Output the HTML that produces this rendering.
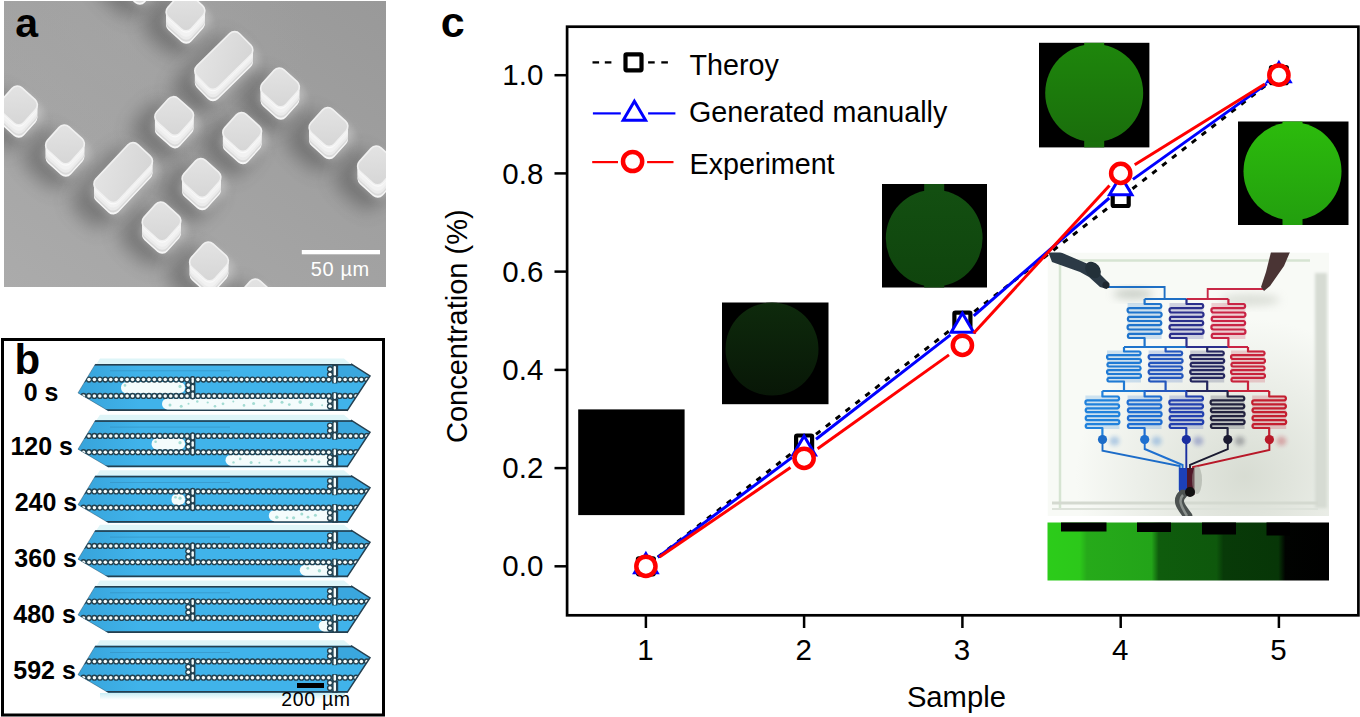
<!DOCTYPE html>
<html><head><meta charset="utf-8"><style>
html,body{margin:0;padding:0;background:#fff;}
body{width:1360px;height:717px;overflow:hidden;font-family:"Liberation Sans", sans-serif;}
svg{display:block;}
</style></head><body>
<svg width="1360" height="717" viewBox="0 0 1360 717">
<defs>
<linearGradient id="semgrad" x1="0" y1="1" x2="1" y2="0">
<stop offset="0" stop-color="#ababab"/><stop offset="0.5" stop-color="#a2a2a2"/><stop offset="1" stop-color="#999999"/>
</linearGradient>
<radialGradient id="semrad" cx="0.3" cy="0.15" r="0.5"><stop offset="0" stop-color="#a6a6a6" stop-opacity="0.5"/><stop offset="1" stop-color="#a6a6a6" stop-opacity="0"/></radialGradient>
<filter id="blur1" x="-50%" y="-10%" width="200%" height="120%"><feGaussianBlur stdDeviation="1.5"/></filter>
<filter id="blur7" x="-80%" y="-80%" width="260%" height="260%"><feGaussianBlur stdDeviation="9"/></filter>
<filter id="blur2" x="-80%" y="-80%" width="260%" height="260%"><feGaussianBlur stdDeviation="2"/></filter>
<filter id="blur4" x="-50%" y="-50%" width="200%" height="200%"><feGaussianBlur stdDeviation="4"/></filter>
<linearGradient id="topface" x1="0" y1="0" x2="1" y2="1">
<stop offset="0" stop-color="#e4e4e4"/><stop offset="1" stop-color="#d5d5d5"/>
</linearGradient>
<radialGradient id="chipshade" cx="0.7" cy="0.85" r="0.6">
<stop offset="0" stop-color="#d4d9cf" stop-opacity="0.9"/><stop offset="1" stop-color="#d4d9cf" stop-opacity="0"/>
</radialGradient>
<linearGradient id="gstrip" x1="1047.5" y1="0" x2="1329" y2="0" gradientUnits="userSpaceOnUse">
<stop offset="0" stop-color="#2ccc1a"/><stop offset="0.115" stop-color="#2cc81a"/><stop offset="0.14" stop-color="#26aa1a"/>
<stop offset="0.37" stop-color="#23a419"/><stop offset="0.395" stop-color="#0f5c0d"/>
<stop offset="0.6" stop-color="#0e580c"/><stop offset="0.625" stop-color="#083a08"/>
<stop offset="0.82" stop-color="#073607"/><stop offset="0.845" stop-color="#010301"/><stop offset="1" stop-color="#000"/>
</linearGradient>
<linearGradient id="g1" x1="0" y1="0" x2="0" y2="1"><stop offset="0" stop-color="#1e860c"/><stop offset="1" stop-color="#1a6e0c"/></linearGradient>
<linearGradient id="g2" x1="0" y1="0" x2="0" y2="1"><stop offset="0" stop-color="#2cbb0c"/><stop offset="1" stop-color="#23a00e"/></linearGradient>
<linearGradient id="g3" x1="0" y1="0" x2="0" y2="1"><stop offset="0" stop-color="#134f11"/><stop offset="1" stop-color="#0f440d"/></linearGradient>
<linearGradient id="halob" x1="0" y1="0" x2="0" y2="1"><stop offset="0" stop-color="#c8eef4"/><stop offset="1" stop-color="#ffffff"/></linearGradient>
<linearGradient id="g4" x1="0" y1="0" x2="0" y2="1"><stop offset="0" stop-color="#0e2a0c"/><stop offset="1" stop-color="#081707"/></linearGradient>
<linearGradient id="leftshade" x1="0" y1="0" x2="1" y2="0">
<stop offset="0" stop-color="#1f78b0" stop-opacity="0.3"/><stop offset="1" stop-color="#1f78b0" stop-opacity="0"/>
</linearGradient>
</defs>
<rect width="1360" height="717" fill="#fff"/>
<clipPath id="clipA"><rect x="4" y="1" width="382" height="286"/></clipPath><g clip-path="url(#clipA)"><rect x="4" y="1" width="382" height="286" fill="url(#semgrad)"/><rect x="4" y="1" width="382" height="286" fill="url(#semrad)"/><rect transform="translate(126.0,-12.5) rotate(42)" x="-26.8" y="-23.8" width="53.5" height="47.5" rx="15" fill="#3a3a3a" opacity="0.42" filter="url(#blur7)"/><rect transform="translate(172.5,26.5) rotate(42)" x="-26.8" y="-23.8" width="53.5" height="47.5" rx="15" fill="#3a3a3a" opacity="0.42" filter="url(#blur7)"/><rect transform="translate(267.0,102.5) rotate(42)" x="-26.8" y="-23.8" width="53.5" height="47.5" rx="15" fill="#3a3a3a" opacity="0.42" filter="url(#blur7)"/><rect transform="translate(315.5,142.0) rotate(42)" x="-26.8" y="-23.8" width="53.5" height="47.5" rx="15" fill="#3a3a3a" opacity="0.42" filter="url(#blur7)"/><rect transform="translate(364.0,180.5) rotate(42)" x="-26.8" y="-23.8" width="53.5" height="47.5" rx="15" fill="#3a3a3a" opacity="0.42" filter="url(#blur7)"/><rect transform="translate(5.0,120.5) rotate(42)" x="-26.8" y="-23.8" width="53.5" height="47.5" rx="15" fill="#3a3a3a" opacity="0.42" filter="url(#blur7)"/><rect transform="translate(52.0,159.5) rotate(42)" x="-26.8" y="-23.8" width="53.5" height="47.5" rx="15" fill="#3a3a3a" opacity="0.42" filter="url(#blur7)"/><rect transform="translate(161.2,131.1) rotate(42)" x="-26.8" y="-23.8" width="53.5" height="47.5" rx="15" fill="#3a3a3a" opacity="0.42" filter="url(#blur7)"/><rect transform="translate(229.2,147.0) rotate(42)" x="-26.8" y="-23.8" width="53.5" height="47.5" rx="15" fill="#3a3a3a" opacity="0.42" filter="url(#blur7)"/><rect transform="translate(188.5,193.0) rotate(42)" x="-26.8" y="-23.8" width="53.5" height="47.5" rx="15" fill="#3a3a3a" opacity="0.42" filter="url(#blur7)"/><rect transform="translate(148.5,236.5) rotate(42)" x="-26.8" y="-23.8" width="53.5" height="47.5" rx="15" fill="#3a3a3a" opacity="0.42" filter="url(#blur7)"/><rect transform="translate(196.0,276.5) rotate(42)" x="-26.8" y="-23.8" width="53.5" height="47.5" rx="15" fill="#3a3a3a" opacity="0.42" filter="url(#blur7)"/><rect transform="translate(243.0,313.5) rotate(42)" x="-26.8" y="-23.8" width="53.5" height="47.5" rx="15" fill="#3a3a3a" opacity="0.42" filter="url(#blur7)"/><rect transform="translate(210.8,75.5) rotate(-44.5)" x="-41.0" y="-23.0" width="82.0" height="46.0" rx="15" fill="#3a3a3a" opacity="0.42" filter="url(#blur7)"/><rect transform="translate(110.2,187.6) rotate(-46.8)" x="-41.5" y="-23.5" width="83.0" height="47.0" rx="15" fill="#3a3a3a" opacity="0.42" filter="url(#blur7)"/><rect transform="translate(141.0,-18.4) rotate(42)" x="-19.8" y="-19.8" width="39.5" height="39.5" rx="11" fill="#ffffff" opacity="0.35" filter="url(#blur4)"/><rect transform="translate(139.0,-14.5) rotate(42)" x="-15.8" y="-15.8" width="31.5" height="31.5" rx="7" fill="#f6f6f6"/><rect transform="translate(139.0,-15.5) rotate(42)" x="-15.8" y="-15.8" width="31.5" height="31.5" rx="7" fill="#f6f6f6"/><rect transform="translate(139.0,-16.5) rotate(42)" x="-15.8" y="-15.8" width="31.5" height="31.5" rx="7" fill="#dadada"/><rect transform="translate(139.0,-17.5) rotate(42)" x="-15.8" y="-15.8" width="31.5" height="31.5" rx="7" fill="#dadada"/><rect transform="translate(139.0,-18.5) rotate(42)" x="-15.8" y="-15.8" width="31.5" height="31.5" rx="7" fill="#ebebeb"/><rect transform="translate(139.0,-19.5) rotate(42)" x="-15.8" y="-15.8" width="31.5" height="31.5" rx="7" fill="#ebebeb"/><rect transform="translate(139.0,-20.5) rotate(42)" x="-15.8" y="-15.8" width="31.5" height="31.5" rx="7" fill="#ebebeb"/><rect transform="translate(139.0,-21.5) rotate(42)" x="-15.8" y="-15.8" width="31.5" height="31.5" rx="7" fill="#f2f2f2"/><rect transform="translate(139.0,-22.5) rotate(42)" x="-15.8" y="-15.8" width="31.5" height="31.5" rx="7" fill="#f2f2f2"/><rect transform="translate(139.0,-23.5) rotate(42)" x="-15.8" y="-15.8" width="31.5" height="31.5" rx="7" fill="#f2f2f2"/><rect transform="translate(139.0,-24.5) rotate(42)" x="-15.8" y="-15.8" width="31.5" height="31.5" rx="7" fill="#f2f2f2"/><rect transform="translate(139.0,-25.5) rotate(42)" x="-15.8" y="-15.8" width="31.5" height="31.5" rx="7" fill="#fafafa"/><rect transform="translate(139.0,-26.5) rotate(42)" x="-15.8" y="-15.8" width="31.5" height="31.5" rx="7" fill="#fafafa"/><rect transform="translate(139.0,-27.5) rotate(42)" x="-15.8" y="-15.8" width="31.5" height="31.5" rx="7" fill="#fafafa"/><rect transform="translate(139.0,-27.5) rotate(42)" x="-15.8" y="-15.8" width="31.5" height="31.5" rx="7" fill="url(#topface)" stroke="#f0f0f0" stroke-width="1.6"/><rect transform="translate(187.5,20.6) rotate(42)" x="-19.8" y="-19.8" width="39.5" height="39.5" rx="11" fill="#ffffff" opacity="0.35" filter="url(#blur4)"/><rect transform="translate(185.5,24.5) rotate(42)" x="-15.8" y="-15.8" width="31.5" height="31.5" rx="7" fill="#f6f6f6"/><rect transform="translate(185.5,23.5) rotate(42)" x="-15.8" y="-15.8" width="31.5" height="31.5" rx="7" fill="#f6f6f6"/><rect transform="translate(185.5,22.5) rotate(42)" x="-15.8" y="-15.8" width="31.5" height="31.5" rx="7" fill="#dadada"/><rect transform="translate(185.5,21.5) rotate(42)" x="-15.8" y="-15.8" width="31.5" height="31.5" rx="7" fill="#dadada"/><rect transform="translate(185.5,20.5) rotate(42)" x="-15.8" y="-15.8" width="31.5" height="31.5" rx="7" fill="#ebebeb"/><rect transform="translate(185.5,19.5) rotate(42)" x="-15.8" y="-15.8" width="31.5" height="31.5" rx="7" fill="#ebebeb"/><rect transform="translate(185.5,18.5) rotate(42)" x="-15.8" y="-15.8" width="31.5" height="31.5" rx="7" fill="#ebebeb"/><rect transform="translate(185.5,17.5) rotate(42)" x="-15.8" y="-15.8" width="31.5" height="31.5" rx="7" fill="#f2f2f2"/><rect transform="translate(185.5,16.5) rotate(42)" x="-15.8" y="-15.8" width="31.5" height="31.5" rx="7" fill="#f2f2f2"/><rect transform="translate(185.5,15.5) rotate(42)" x="-15.8" y="-15.8" width="31.5" height="31.5" rx="7" fill="#f2f2f2"/><rect transform="translate(185.5,14.5) rotate(42)" x="-15.8" y="-15.8" width="31.5" height="31.5" rx="7" fill="#f2f2f2"/><rect transform="translate(185.5,13.5) rotate(42)" x="-15.8" y="-15.8" width="31.5" height="31.5" rx="7" fill="#fafafa"/><rect transform="translate(185.5,12.5) rotate(42)" x="-15.8" y="-15.8" width="31.5" height="31.5" rx="7" fill="#fafafa"/><rect transform="translate(185.5,11.5) rotate(42)" x="-15.8" y="-15.8" width="31.5" height="31.5" rx="7" fill="#fafafa"/><rect transform="translate(185.5,11.5) rotate(42)" x="-15.8" y="-15.8" width="31.5" height="31.5" rx="7" fill="url(#topface)" stroke="#f0f0f0" stroke-width="1.6"/><rect transform="translate(282.0,96.6) rotate(42)" x="-19.8" y="-19.8" width="39.5" height="39.5" rx="11" fill="#ffffff" opacity="0.35" filter="url(#blur4)"/><rect transform="translate(280.0,100.5) rotate(42)" x="-15.8" y="-15.8" width="31.5" height="31.5" rx="7" fill="#f6f6f6"/><rect transform="translate(280.0,99.5) rotate(42)" x="-15.8" y="-15.8" width="31.5" height="31.5" rx="7" fill="#f6f6f6"/><rect transform="translate(280.0,98.5) rotate(42)" x="-15.8" y="-15.8" width="31.5" height="31.5" rx="7" fill="#dadada"/><rect transform="translate(280.0,97.5) rotate(42)" x="-15.8" y="-15.8" width="31.5" height="31.5" rx="7" fill="#dadada"/><rect transform="translate(280.0,96.5) rotate(42)" x="-15.8" y="-15.8" width="31.5" height="31.5" rx="7" fill="#ebebeb"/><rect transform="translate(280.0,95.5) rotate(42)" x="-15.8" y="-15.8" width="31.5" height="31.5" rx="7" fill="#ebebeb"/><rect transform="translate(280.0,94.5) rotate(42)" x="-15.8" y="-15.8" width="31.5" height="31.5" rx="7" fill="#ebebeb"/><rect transform="translate(280.0,93.5) rotate(42)" x="-15.8" y="-15.8" width="31.5" height="31.5" rx="7" fill="#f2f2f2"/><rect transform="translate(280.0,92.5) rotate(42)" x="-15.8" y="-15.8" width="31.5" height="31.5" rx="7" fill="#f2f2f2"/><rect transform="translate(280.0,91.5) rotate(42)" x="-15.8" y="-15.8" width="31.5" height="31.5" rx="7" fill="#f2f2f2"/><rect transform="translate(280.0,90.5) rotate(42)" x="-15.8" y="-15.8" width="31.5" height="31.5" rx="7" fill="#f2f2f2"/><rect transform="translate(280.0,89.5) rotate(42)" x="-15.8" y="-15.8" width="31.5" height="31.5" rx="7" fill="#fafafa"/><rect transform="translate(280.0,88.5) rotate(42)" x="-15.8" y="-15.8" width="31.5" height="31.5" rx="7" fill="#fafafa"/><rect transform="translate(280.0,87.5) rotate(42)" x="-15.8" y="-15.8" width="31.5" height="31.5" rx="7" fill="#fafafa"/><rect transform="translate(280.0,87.5) rotate(42)" x="-15.8" y="-15.8" width="31.5" height="31.5" rx="7" fill="url(#topface)" stroke="#f0f0f0" stroke-width="1.6"/><rect transform="translate(330.5,136.1) rotate(42)" x="-19.8" y="-19.8" width="39.5" height="39.5" rx="11" fill="#ffffff" opacity="0.35" filter="url(#blur4)"/><rect transform="translate(328.5,140.0) rotate(42)" x="-15.8" y="-15.8" width="31.5" height="31.5" rx="7" fill="#f6f6f6"/><rect transform="translate(328.5,139.0) rotate(42)" x="-15.8" y="-15.8" width="31.5" height="31.5" rx="7" fill="#f6f6f6"/><rect transform="translate(328.5,138.0) rotate(42)" x="-15.8" y="-15.8" width="31.5" height="31.5" rx="7" fill="#dadada"/><rect transform="translate(328.5,137.0) rotate(42)" x="-15.8" y="-15.8" width="31.5" height="31.5" rx="7" fill="#dadada"/><rect transform="translate(328.5,136.0) rotate(42)" x="-15.8" y="-15.8" width="31.5" height="31.5" rx="7" fill="#ebebeb"/><rect transform="translate(328.5,135.0) rotate(42)" x="-15.8" y="-15.8" width="31.5" height="31.5" rx="7" fill="#ebebeb"/><rect transform="translate(328.5,134.0) rotate(42)" x="-15.8" y="-15.8" width="31.5" height="31.5" rx="7" fill="#ebebeb"/><rect transform="translate(328.5,133.0) rotate(42)" x="-15.8" y="-15.8" width="31.5" height="31.5" rx="7" fill="#f2f2f2"/><rect transform="translate(328.5,132.0) rotate(42)" x="-15.8" y="-15.8" width="31.5" height="31.5" rx="7" fill="#f2f2f2"/><rect transform="translate(328.5,131.0) rotate(42)" x="-15.8" y="-15.8" width="31.5" height="31.5" rx="7" fill="#f2f2f2"/><rect transform="translate(328.5,130.0) rotate(42)" x="-15.8" y="-15.8" width="31.5" height="31.5" rx="7" fill="#f2f2f2"/><rect transform="translate(328.5,129.0) rotate(42)" x="-15.8" y="-15.8" width="31.5" height="31.5" rx="7" fill="#fafafa"/><rect transform="translate(328.5,128.0) rotate(42)" x="-15.8" y="-15.8" width="31.5" height="31.5" rx="7" fill="#fafafa"/><rect transform="translate(328.5,127.0) rotate(42)" x="-15.8" y="-15.8" width="31.5" height="31.5" rx="7" fill="#fafafa"/><rect transform="translate(328.5,127.0) rotate(42)" x="-15.8" y="-15.8" width="31.5" height="31.5" rx="7" fill="url(#topface)" stroke="#f0f0f0" stroke-width="1.6"/><rect transform="translate(379.0,174.6) rotate(42)" x="-19.8" y="-19.8" width="39.5" height="39.5" rx="11" fill="#ffffff" opacity="0.35" filter="url(#blur4)"/><rect transform="translate(377.0,178.5) rotate(42)" x="-15.8" y="-15.8" width="31.5" height="31.5" rx="7" fill="#f6f6f6"/><rect transform="translate(377.0,177.5) rotate(42)" x="-15.8" y="-15.8" width="31.5" height="31.5" rx="7" fill="#f6f6f6"/><rect transform="translate(377.0,176.5) rotate(42)" x="-15.8" y="-15.8" width="31.5" height="31.5" rx="7" fill="#dadada"/><rect transform="translate(377.0,175.5) rotate(42)" x="-15.8" y="-15.8" width="31.5" height="31.5" rx="7" fill="#dadada"/><rect transform="translate(377.0,174.5) rotate(42)" x="-15.8" y="-15.8" width="31.5" height="31.5" rx="7" fill="#ebebeb"/><rect transform="translate(377.0,173.5) rotate(42)" x="-15.8" y="-15.8" width="31.5" height="31.5" rx="7" fill="#ebebeb"/><rect transform="translate(377.0,172.5) rotate(42)" x="-15.8" y="-15.8" width="31.5" height="31.5" rx="7" fill="#ebebeb"/><rect transform="translate(377.0,171.5) rotate(42)" x="-15.8" y="-15.8" width="31.5" height="31.5" rx="7" fill="#f2f2f2"/><rect transform="translate(377.0,170.5) rotate(42)" x="-15.8" y="-15.8" width="31.5" height="31.5" rx="7" fill="#f2f2f2"/><rect transform="translate(377.0,169.5) rotate(42)" x="-15.8" y="-15.8" width="31.5" height="31.5" rx="7" fill="#f2f2f2"/><rect transform="translate(377.0,168.5) rotate(42)" x="-15.8" y="-15.8" width="31.5" height="31.5" rx="7" fill="#f2f2f2"/><rect transform="translate(377.0,167.5) rotate(42)" x="-15.8" y="-15.8" width="31.5" height="31.5" rx="7" fill="#fafafa"/><rect transform="translate(377.0,166.5) rotate(42)" x="-15.8" y="-15.8" width="31.5" height="31.5" rx="7" fill="#fafafa"/><rect transform="translate(377.0,165.5) rotate(42)" x="-15.8" y="-15.8" width="31.5" height="31.5" rx="7" fill="#fafafa"/><rect transform="translate(377.0,165.5) rotate(42)" x="-15.8" y="-15.8" width="31.5" height="31.5" rx="7" fill="url(#topface)" stroke="#f0f0f0" stroke-width="1.6"/><rect transform="translate(20.0,114.6) rotate(42)" x="-19.8" y="-19.8" width="39.5" height="39.5" rx="11" fill="#ffffff" opacity="0.35" filter="url(#blur4)"/><rect transform="translate(18.0,118.5) rotate(42)" x="-15.8" y="-15.8" width="31.5" height="31.5" rx="7" fill="#f6f6f6"/><rect transform="translate(18.0,117.5) rotate(42)" x="-15.8" y="-15.8" width="31.5" height="31.5" rx="7" fill="#f6f6f6"/><rect transform="translate(18.0,116.5) rotate(42)" x="-15.8" y="-15.8" width="31.5" height="31.5" rx="7" fill="#dadada"/><rect transform="translate(18.0,115.5) rotate(42)" x="-15.8" y="-15.8" width="31.5" height="31.5" rx="7" fill="#dadada"/><rect transform="translate(18.0,114.5) rotate(42)" x="-15.8" y="-15.8" width="31.5" height="31.5" rx="7" fill="#ebebeb"/><rect transform="translate(18.0,113.5) rotate(42)" x="-15.8" y="-15.8" width="31.5" height="31.5" rx="7" fill="#ebebeb"/><rect transform="translate(18.0,112.5) rotate(42)" x="-15.8" y="-15.8" width="31.5" height="31.5" rx="7" fill="#ebebeb"/><rect transform="translate(18.0,111.5) rotate(42)" x="-15.8" y="-15.8" width="31.5" height="31.5" rx="7" fill="#f2f2f2"/><rect transform="translate(18.0,110.5) rotate(42)" x="-15.8" y="-15.8" width="31.5" height="31.5" rx="7" fill="#f2f2f2"/><rect transform="translate(18.0,109.5) rotate(42)" x="-15.8" y="-15.8" width="31.5" height="31.5" rx="7" fill="#f2f2f2"/><rect transform="translate(18.0,108.5) rotate(42)" x="-15.8" y="-15.8" width="31.5" height="31.5" rx="7" fill="#f2f2f2"/><rect transform="translate(18.0,107.5) rotate(42)" x="-15.8" y="-15.8" width="31.5" height="31.5" rx="7" fill="#fafafa"/><rect transform="translate(18.0,106.5) rotate(42)" x="-15.8" y="-15.8" width="31.5" height="31.5" rx="7" fill="#fafafa"/><rect transform="translate(18.0,105.5) rotate(42)" x="-15.8" y="-15.8" width="31.5" height="31.5" rx="7" fill="#fafafa"/><rect transform="translate(18.0,105.5) rotate(42)" x="-15.8" y="-15.8" width="31.5" height="31.5" rx="7" fill="url(#topface)" stroke="#f0f0f0" stroke-width="1.6"/><rect transform="translate(67.0,153.6) rotate(42)" x="-19.8" y="-19.8" width="39.5" height="39.5" rx="11" fill="#ffffff" opacity="0.35" filter="url(#blur4)"/><rect transform="translate(65.0,157.5) rotate(42)" x="-15.8" y="-15.8" width="31.5" height="31.5" rx="7" fill="#f6f6f6"/><rect transform="translate(65.0,156.5) rotate(42)" x="-15.8" y="-15.8" width="31.5" height="31.5" rx="7" fill="#f6f6f6"/><rect transform="translate(65.0,155.5) rotate(42)" x="-15.8" y="-15.8" width="31.5" height="31.5" rx="7" fill="#dadada"/><rect transform="translate(65.0,154.5) rotate(42)" x="-15.8" y="-15.8" width="31.5" height="31.5" rx="7" fill="#dadada"/><rect transform="translate(65.0,153.5) rotate(42)" x="-15.8" y="-15.8" width="31.5" height="31.5" rx="7" fill="#ebebeb"/><rect transform="translate(65.0,152.5) rotate(42)" x="-15.8" y="-15.8" width="31.5" height="31.5" rx="7" fill="#ebebeb"/><rect transform="translate(65.0,151.5) rotate(42)" x="-15.8" y="-15.8" width="31.5" height="31.5" rx="7" fill="#ebebeb"/><rect transform="translate(65.0,150.5) rotate(42)" x="-15.8" y="-15.8" width="31.5" height="31.5" rx="7" fill="#f2f2f2"/><rect transform="translate(65.0,149.5) rotate(42)" x="-15.8" y="-15.8" width="31.5" height="31.5" rx="7" fill="#f2f2f2"/><rect transform="translate(65.0,148.5) rotate(42)" x="-15.8" y="-15.8" width="31.5" height="31.5" rx="7" fill="#f2f2f2"/><rect transform="translate(65.0,147.5) rotate(42)" x="-15.8" y="-15.8" width="31.5" height="31.5" rx="7" fill="#f2f2f2"/><rect transform="translate(65.0,146.5) rotate(42)" x="-15.8" y="-15.8" width="31.5" height="31.5" rx="7" fill="#fafafa"/><rect transform="translate(65.0,145.5) rotate(42)" x="-15.8" y="-15.8" width="31.5" height="31.5" rx="7" fill="#fafafa"/><rect transform="translate(65.0,144.5) rotate(42)" x="-15.8" y="-15.8" width="31.5" height="31.5" rx="7" fill="#fafafa"/><rect transform="translate(65.0,144.5) rotate(42)" x="-15.8" y="-15.8" width="31.5" height="31.5" rx="7" fill="url(#topface)" stroke="#f0f0f0" stroke-width="1.6"/><rect transform="translate(176.2,125.2) rotate(42)" x="-19.8" y="-19.8" width="39.5" height="39.5" rx="11" fill="#ffffff" opacity="0.35" filter="url(#blur4)"/><rect transform="translate(174.2,129.1) rotate(42)" x="-15.8" y="-15.8" width="31.5" height="31.5" rx="7" fill="#f6f6f6"/><rect transform="translate(174.2,128.1) rotate(42)" x="-15.8" y="-15.8" width="31.5" height="31.5" rx="7" fill="#f6f6f6"/><rect transform="translate(174.2,127.1) rotate(42)" x="-15.8" y="-15.8" width="31.5" height="31.5" rx="7" fill="#dadada"/><rect transform="translate(174.2,126.1) rotate(42)" x="-15.8" y="-15.8" width="31.5" height="31.5" rx="7" fill="#dadada"/><rect transform="translate(174.2,125.1) rotate(42)" x="-15.8" y="-15.8" width="31.5" height="31.5" rx="7" fill="#ebebeb"/><rect transform="translate(174.2,124.1) rotate(42)" x="-15.8" y="-15.8" width="31.5" height="31.5" rx="7" fill="#ebebeb"/><rect transform="translate(174.2,123.1) rotate(42)" x="-15.8" y="-15.8" width="31.5" height="31.5" rx="7" fill="#ebebeb"/><rect transform="translate(174.2,122.1) rotate(42)" x="-15.8" y="-15.8" width="31.5" height="31.5" rx="7" fill="#f2f2f2"/><rect transform="translate(174.2,121.1) rotate(42)" x="-15.8" y="-15.8" width="31.5" height="31.5" rx="7" fill="#f2f2f2"/><rect transform="translate(174.2,120.1) rotate(42)" x="-15.8" y="-15.8" width="31.5" height="31.5" rx="7" fill="#f2f2f2"/><rect transform="translate(174.2,119.1) rotate(42)" x="-15.8" y="-15.8" width="31.5" height="31.5" rx="7" fill="#f2f2f2"/><rect transform="translate(174.2,118.1) rotate(42)" x="-15.8" y="-15.8" width="31.5" height="31.5" rx="7" fill="#fafafa"/><rect transform="translate(174.2,117.1) rotate(42)" x="-15.8" y="-15.8" width="31.5" height="31.5" rx="7" fill="#fafafa"/><rect transform="translate(174.2,116.1) rotate(42)" x="-15.8" y="-15.8" width="31.5" height="31.5" rx="7" fill="#fafafa"/><rect transform="translate(174.2,116.1) rotate(42)" x="-15.8" y="-15.8" width="31.5" height="31.5" rx="7" fill="url(#topface)" stroke="#f0f0f0" stroke-width="1.6"/><rect transform="translate(244.2,141.1) rotate(42)" x="-19.8" y="-19.8" width="39.5" height="39.5" rx="11" fill="#ffffff" opacity="0.35" filter="url(#blur4)"/><rect transform="translate(242.2,145.0) rotate(42)" x="-15.8" y="-15.8" width="31.5" height="31.5" rx="7" fill="#f6f6f6"/><rect transform="translate(242.2,144.0) rotate(42)" x="-15.8" y="-15.8" width="31.5" height="31.5" rx="7" fill="#f6f6f6"/><rect transform="translate(242.2,143.0) rotate(42)" x="-15.8" y="-15.8" width="31.5" height="31.5" rx="7" fill="#dadada"/><rect transform="translate(242.2,142.0) rotate(42)" x="-15.8" y="-15.8" width="31.5" height="31.5" rx="7" fill="#dadada"/><rect transform="translate(242.2,141.0) rotate(42)" x="-15.8" y="-15.8" width="31.5" height="31.5" rx="7" fill="#ebebeb"/><rect transform="translate(242.2,140.0) rotate(42)" x="-15.8" y="-15.8" width="31.5" height="31.5" rx="7" fill="#ebebeb"/><rect transform="translate(242.2,139.0) rotate(42)" x="-15.8" y="-15.8" width="31.5" height="31.5" rx="7" fill="#ebebeb"/><rect transform="translate(242.2,138.0) rotate(42)" x="-15.8" y="-15.8" width="31.5" height="31.5" rx="7" fill="#f2f2f2"/><rect transform="translate(242.2,137.0) rotate(42)" x="-15.8" y="-15.8" width="31.5" height="31.5" rx="7" fill="#f2f2f2"/><rect transform="translate(242.2,136.0) rotate(42)" x="-15.8" y="-15.8" width="31.5" height="31.5" rx="7" fill="#f2f2f2"/><rect transform="translate(242.2,135.0) rotate(42)" x="-15.8" y="-15.8" width="31.5" height="31.5" rx="7" fill="#f2f2f2"/><rect transform="translate(242.2,134.0) rotate(42)" x="-15.8" y="-15.8" width="31.5" height="31.5" rx="7" fill="#fafafa"/><rect transform="translate(242.2,133.0) rotate(42)" x="-15.8" y="-15.8" width="31.5" height="31.5" rx="7" fill="#fafafa"/><rect transform="translate(242.2,132.0) rotate(42)" x="-15.8" y="-15.8" width="31.5" height="31.5" rx="7" fill="#fafafa"/><rect transform="translate(242.2,132.0) rotate(42)" x="-15.8" y="-15.8" width="31.5" height="31.5" rx="7" fill="url(#topface)" stroke="#f0f0f0" stroke-width="1.6"/><rect transform="translate(203.5,187.1) rotate(42)" x="-19.8" y="-19.8" width="39.5" height="39.5" rx="11" fill="#ffffff" opacity="0.35" filter="url(#blur4)"/><rect transform="translate(201.5,191.0) rotate(42)" x="-15.8" y="-15.8" width="31.5" height="31.5" rx="7" fill="#f6f6f6"/><rect transform="translate(201.5,190.0) rotate(42)" x="-15.8" y="-15.8" width="31.5" height="31.5" rx="7" fill="#f6f6f6"/><rect transform="translate(201.5,189.0) rotate(42)" x="-15.8" y="-15.8" width="31.5" height="31.5" rx="7" fill="#dadada"/><rect transform="translate(201.5,188.0) rotate(42)" x="-15.8" y="-15.8" width="31.5" height="31.5" rx="7" fill="#dadada"/><rect transform="translate(201.5,187.0) rotate(42)" x="-15.8" y="-15.8" width="31.5" height="31.5" rx="7" fill="#ebebeb"/><rect transform="translate(201.5,186.0) rotate(42)" x="-15.8" y="-15.8" width="31.5" height="31.5" rx="7" fill="#ebebeb"/><rect transform="translate(201.5,185.0) rotate(42)" x="-15.8" y="-15.8" width="31.5" height="31.5" rx="7" fill="#ebebeb"/><rect transform="translate(201.5,184.0) rotate(42)" x="-15.8" y="-15.8" width="31.5" height="31.5" rx="7" fill="#f2f2f2"/><rect transform="translate(201.5,183.0) rotate(42)" x="-15.8" y="-15.8" width="31.5" height="31.5" rx="7" fill="#f2f2f2"/><rect transform="translate(201.5,182.0) rotate(42)" x="-15.8" y="-15.8" width="31.5" height="31.5" rx="7" fill="#f2f2f2"/><rect transform="translate(201.5,181.0) rotate(42)" x="-15.8" y="-15.8" width="31.5" height="31.5" rx="7" fill="#f2f2f2"/><rect transform="translate(201.5,180.0) rotate(42)" x="-15.8" y="-15.8" width="31.5" height="31.5" rx="7" fill="#fafafa"/><rect transform="translate(201.5,179.0) rotate(42)" x="-15.8" y="-15.8" width="31.5" height="31.5" rx="7" fill="#fafafa"/><rect transform="translate(201.5,178.0) rotate(42)" x="-15.8" y="-15.8" width="31.5" height="31.5" rx="7" fill="#fafafa"/><rect transform="translate(201.5,178.0) rotate(42)" x="-15.8" y="-15.8" width="31.5" height="31.5" rx="7" fill="url(#topface)" stroke="#f0f0f0" stroke-width="1.6"/><rect transform="translate(163.5,230.6) rotate(42)" x="-19.8" y="-19.8" width="39.5" height="39.5" rx="11" fill="#ffffff" opacity="0.35" filter="url(#blur4)"/><rect transform="translate(161.5,234.5) rotate(42)" x="-15.8" y="-15.8" width="31.5" height="31.5" rx="7" fill="#f6f6f6"/><rect transform="translate(161.5,233.5) rotate(42)" x="-15.8" y="-15.8" width="31.5" height="31.5" rx="7" fill="#f6f6f6"/><rect transform="translate(161.5,232.5) rotate(42)" x="-15.8" y="-15.8" width="31.5" height="31.5" rx="7" fill="#dadada"/><rect transform="translate(161.5,231.5) rotate(42)" x="-15.8" y="-15.8" width="31.5" height="31.5" rx="7" fill="#dadada"/><rect transform="translate(161.5,230.5) rotate(42)" x="-15.8" y="-15.8" width="31.5" height="31.5" rx="7" fill="#ebebeb"/><rect transform="translate(161.5,229.5) rotate(42)" x="-15.8" y="-15.8" width="31.5" height="31.5" rx="7" fill="#ebebeb"/><rect transform="translate(161.5,228.5) rotate(42)" x="-15.8" y="-15.8" width="31.5" height="31.5" rx="7" fill="#ebebeb"/><rect transform="translate(161.5,227.5) rotate(42)" x="-15.8" y="-15.8" width="31.5" height="31.5" rx="7" fill="#f2f2f2"/><rect transform="translate(161.5,226.5) rotate(42)" x="-15.8" y="-15.8" width="31.5" height="31.5" rx="7" fill="#f2f2f2"/><rect transform="translate(161.5,225.5) rotate(42)" x="-15.8" y="-15.8" width="31.5" height="31.5" rx="7" fill="#f2f2f2"/><rect transform="translate(161.5,224.5) rotate(42)" x="-15.8" y="-15.8" width="31.5" height="31.5" rx="7" fill="#f2f2f2"/><rect transform="translate(161.5,223.5) rotate(42)" x="-15.8" y="-15.8" width="31.5" height="31.5" rx="7" fill="#fafafa"/><rect transform="translate(161.5,222.5) rotate(42)" x="-15.8" y="-15.8" width="31.5" height="31.5" rx="7" fill="#fafafa"/><rect transform="translate(161.5,221.5) rotate(42)" x="-15.8" y="-15.8" width="31.5" height="31.5" rx="7" fill="#fafafa"/><rect transform="translate(161.5,221.5) rotate(42)" x="-15.8" y="-15.8" width="31.5" height="31.5" rx="7" fill="url(#topface)" stroke="#f0f0f0" stroke-width="1.6"/><rect transform="translate(211.0,270.6) rotate(42)" x="-19.8" y="-19.8" width="39.5" height="39.5" rx="11" fill="#ffffff" opacity="0.35" filter="url(#blur4)"/><rect transform="translate(209.0,274.5) rotate(42)" x="-15.8" y="-15.8" width="31.5" height="31.5" rx="7" fill="#f6f6f6"/><rect transform="translate(209.0,273.5) rotate(42)" x="-15.8" y="-15.8" width="31.5" height="31.5" rx="7" fill="#f6f6f6"/><rect transform="translate(209.0,272.5) rotate(42)" x="-15.8" y="-15.8" width="31.5" height="31.5" rx="7" fill="#dadada"/><rect transform="translate(209.0,271.5) rotate(42)" x="-15.8" y="-15.8" width="31.5" height="31.5" rx="7" fill="#dadada"/><rect transform="translate(209.0,270.5) rotate(42)" x="-15.8" y="-15.8" width="31.5" height="31.5" rx="7" fill="#ebebeb"/><rect transform="translate(209.0,269.5) rotate(42)" x="-15.8" y="-15.8" width="31.5" height="31.5" rx="7" fill="#ebebeb"/><rect transform="translate(209.0,268.5) rotate(42)" x="-15.8" y="-15.8" width="31.5" height="31.5" rx="7" fill="#ebebeb"/><rect transform="translate(209.0,267.5) rotate(42)" x="-15.8" y="-15.8" width="31.5" height="31.5" rx="7" fill="#f2f2f2"/><rect transform="translate(209.0,266.5) rotate(42)" x="-15.8" y="-15.8" width="31.5" height="31.5" rx="7" fill="#f2f2f2"/><rect transform="translate(209.0,265.5) rotate(42)" x="-15.8" y="-15.8" width="31.5" height="31.5" rx="7" fill="#f2f2f2"/><rect transform="translate(209.0,264.5) rotate(42)" x="-15.8" y="-15.8" width="31.5" height="31.5" rx="7" fill="#f2f2f2"/><rect transform="translate(209.0,263.5) rotate(42)" x="-15.8" y="-15.8" width="31.5" height="31.5" rx="7" fill="#fafafa"/><rect transform="translate(209.0,262.5) rotate(42)" x="-15.8" y="-15.8" width="31.5" height="31.5" rx="7" fill="#fafafa"/><rect transform="translate(209.0,261.5) rotate(42)" x="-15.8" y="-15.8" width="31.5" height="31.5" rx="7" fill="#fafafa"/><rect transform="translate(209.0,261.5) rotate(42)" x="-15.8" y="-15.8" width="31.5" height="31.5" rx="7" fill="url(#topface)" stroke="#f0f0f0" stroke-width="1.6"/><rect transform="translate(258.0,307.6) rotate(42)" x="-19.8" y="-19.8" width="39.5" height="39.5" rx="11" fill="#ffffff" opacity="0.35" filter="url(#blur4)"/><rect transform="translate(256.0,311.5) rotate(42)" x="-15.8" y="-15.8" width="31.5" height="31.5" rx="7" fill="#f6f6f6"/><rect transform="translate(256.0,310.5) rotate(42)" x="-15.8" y="-15.8" width="31.5" height="31.5" rx="7" fill="#f6f6f6"/><rect transform="translate(256.0,309.5) rotate(42)" x="-15.8" y="-15.8" width="31.5" height="31.5" rx="7" fill="#dadada"/><rect transform="translate(256.0,308.5) rotate(42)" x="-15.8" y="-15.8" width="31.5" height="31.5" rx="7" fill="#dadada"/><rect transform="translate(256.0,307.5) rotate(42)" x="-15.8" y="-15.8" width="31.5" height="31.5" rx="7" fill="#ebebeb"/><rect transform="translate(256.0,306.5) rotate(42)" x="-15.8" y="-15.8" width="31.5" height="31.5" rx="7" fill="#ebebeb"/><rect transform="translate(256.0,305.5) rotate(42)" x="-15.8" y="-15.8" width="31.5" height="31.5" rx="7" fill="#ebebeb"/><rect transform="translate(256.0,304.5) rotate(42)" x="-15.8" y="-15.8" width="31.5" height="31.5" rx="7" fill="#f2f2f2"/><rect transform="translate(256.0,303.5) rotate(42)" x="-15.8" y="-15.8" width="31.5" height="31.5" rx="7" fill="#f2f2f2"/><rect transform="translate(256.0,302.5) rotate(42)" x="-15.8" y="-15.8" width="31.5" height="31.5" rx="7" fill="#f2f2f2"/><rect transform="translate(256.0,301.5) rotate(42)" x="-15.8" y="-15.8" width="31.5" height="31.5" rx="7" fill="#f2f2f2"/><rect transform="translate(256.0,300.5) rotate(42)" x="-15.8" y="-15.8" width="31.5" height="31.5" rx="7" fill="#fafafa"/><rect transform="translate(256.0,299.5) rotate(42)" x="-15.8" y="-15.8" width="31.5" height="31.5" rx="7" fill="#fafafa"/><rect transform="translate(256.0,298.5) rotate(42)" x="-15.8" y="-15.8" width="31.5" height="31.5" rx="7" fill="#fafafa"/><rect transform="translate(256.0,298.5) rotate(42)" x="-15.8" y="-15.8" width="31.5" height="31.5" rx="7" fill="url(#topface)" stroke="#f0f0f0" stroke-width="1.6"/><rect transform="translate(225.8,68.9) rotate(-44.5)" x="-34.0" y="-19.0" width="68.0" height="38.0" rx="11" fill="#ffffff" opacity="0.35" filter="url(#blur4)"/><rect transform="translate(223.8,72.5) rotate(-44.5)" x="-30.0" y="-15.0" width="60.0" height="30.0" rx="7" fill="#f6f6f6"/><rect transform="translate(223.8,71.5) rotate(-44.5)" x="-30.0" y="-15.0" width="60.0" height="30.0" rx="7" fill="#f6f6f6"/><rect transform="translate(223.8,70.5) rotate(-44.5)" x="-30.0" y="-15.0" width="60.0" height="30.0" rx="7" fill="#dadada"/><rect transform="translate(223.8,69.5) rotate(-44.5)" x="-30.0" y="-15.0" width="60.0" height="30.0" rx="7" fill="#dadada"/><rect transform="translate(223.8,68.5) rotate(-44.5)" x="-30.0" y="-15.0" width="60.0" height="30.0" rx="7" fill="#ebebeb"/><rect transform="translate(223.8,67.5) rotate(-44.5)" x="-30.0" y="-15.0" width="60.0" height="30.0" rx="7" fill="#ebebeb"/><rect transform="translate(223.8,66.5) rotate(-44.5)" x="-30.0" y="-15.0" width="60.0" height="30.0" rx="7" fill="#ebebeb"/><rect transform="translate(223.8,65.5) rotate(-44.5)" x="-30.0" y="-15.0" width="60.0" height="30.0" rx="7" fill="#f2f2f2"/><rect transform="translate(223.8,64.5) rotate(-44.5)" x="-30.0" y="-15.0" width="60.0" height="30.0" rx="7" fill="#f2f2f2"/><rect transform="translate(223.8,63.5) rotate(-44.5)" x="-30.0" y="-15.0" width="60.0" height="30.0" rx="7" fill="#f2f2f2"/><rect transform="translate(223.8,62.5) rotate(-44.5)" x="-30.0" y="-15.0" width="60.0" height="30.0" rx="7" fill="#fafafa"/><rect transform="translate(223.8,61.5) rotate(-44.5)" x="-30.0" y="-15.0" width="60.0" height="30.0" rx="7" fill="#fafafa"/><rect transform="translate(223.8,60.5) rotate(-44.5)" x="-30.0" y="-15.0" width="60.0" height="30.0" rx="7" fill="#fafafa"/><rect transform="translate(223.8,60.5) rotate(-44.5)" x="-30.0" y="-15.0" width="60.0" height="30.0" rx="7" fill="url(#topface)" stroke="#f0f0f0" stroke-width="1.6"/><rect transform="translate(125.2,181.0) rotate(-46.8)" x="-34.5" y="-19.5" width="69.0" height="39.0" rx="11" fill="#ffffff" opacity="0.35" filter="url(#blur4)"/><rect transform="translate(123.2,184.6) rotate(-46.8)" x="-30.5" y="-15.5" width="61.0" height="31.0" rx="7" fill="#f6f6f6"/><rect transform="translate(123.2,183.6) rotate(-46.8)" x="-30.5" y="-15.5" width="61.0" height="31.0" rx="7" fill="#f6f6f6"/><rect transform="translate(123.2,182.6) rotate(-46.8)" x="-30.5" y="-15.5" width="61.0" height="31.0" rx="7" fill="#dadada"/><rect transform="translate(123.2,181.6) rotate(-46.8)" x="-30.5" y="-15.5" width="61.0" height="31.0" rx="7" fill="#dadada"/><rect transform="translate(123.2,180.6) rotate(-46.8)" x="-30.5" y="-15.5" width="61.0" height="31.0" rx="7" fill="#ebebeb"/><rect transform="translate(123.2,179.6) rotate(-46.8)" x="-30.5" y="-15.5" width="61.0" height="31.0" rx="7" fill="#ebebeb"/><rect transform="translate(123.2,178.6) rotate(-46.8)" x="-30.5" y="-15.5" width="61.0" height="31.0" rx="7" fill="#ebebeb"/><rect transform="translate(123.2,177.6) rotate(-46.8)" x="-30.5" y="-15.5" width="61.0" height="31.0" rx="7" fill="#f2f2f2"/><rect transform="translate(123.2,176.6) rotate(-46.8)" x="-30.5" y="-15.5" width="61.0" height="31.0" rx="7" fill="#f2f2f2"/><rect transform="translate(123.2,175.6) rotate(-46.8)" x="-30.5" y="-15.5" width="61.0" height="31.0" rx="7" fill="#f2f2f2"/><rect transform="translate(123.2,174.6) rotate(-46.8)" x="-30.5" y="-15.5" width="61.0" height="31.0" rx="7" fill="#fafafa"/><rect transform="translate(123.2,173.6) rotate(-46.8)" x="-30.5" y="-15.5" width="61.0" height="31.0" rx="7" fill="#fafafa"/><rect transform="translate(123.2,172.6) rotate(-46.8)" x="-30.5" y="-15.5" width="61.0" height="31.0" rx="7" fill="#fafafa"/><rect transform="translate(123.2,172.6) rotate(-46.8)" x="-30.5" y="-15.5" width="61.0" height="31.0" rx="7" fill="url(#topface)" stroke="#f0f0f0" stroke-width="1.6"/></g><text x="15.3" y="36.6" font-family='"Liberation Sans", sans-serif' font-weight="bold" font-size="41" fill="#000">a</text><rect x="301.8" y="250" width="78.2" height="4.3" fill="#fff"/><text x="340.3" y="276" text-anchor="middle" font-family='"Liberation Sans", sans-serif' font-size="20" letter-spacing="0.6" fill="#fff">50 µm</text>
<rect x="2.5" y="339.5" width="381" height="375.5" fill="none" stroke="#000" stroke-width="3"/><text x="14.5" y="374.4" font-family='"Liberation Sans", sans-serif' font-weight="bold" font-size="42" fill="#000">b</text><clipPath id="st0"><polygon points="95.5,363.9 351,363.9 370,375.9 347,410.9 108.5,410.9 78,392.9"/></clipPath><polygon points="100,358.4 344,358.4 351,364.4 96,364.4" fill="#def5f8"/><g clip-path="url(#st0)"><rect x="70" y="362.4" width="310" height="52" fill="#40b3ea"/><rect x="70" y="362.4" width="70" height="52" fill="url(#leftshade)"/><rect x="70" y="363.4" width="310" height="2.2" fill="#253f4f"/><rect x="70" y="409.2" width="310" height="2" fill="#253f4f"/><rect x="110" y="370.4" width="120" height="0.8" fill="#2f7fae" opacity="0.5"/><rect x="121" y="381.9" width="64" height="11.5" rx="5.5" fill="#f4fcfc"/><circle cx="125" cy="385.4" r="1.3" fill="#8fd3c8" opacity="0.8"/><circle cx="180" cy="386.4" r="1.6" fill="#8fd3c8" opacity="0.8"/><rect x="162" y="398.4" width="171" height="11" rx="5.5" fill="#f4fcfc"/><circle cx="170.0" cy="405.0" r="1.5" fill="#8fd3c8" opacity="0.8"/><circle cx="181.2" cy="406.3" r="1.5" fill="#8fd3c8" opacity="0.8"/><circle cx="188.5" cy="403.7" r="1.0" fill="#8fd3c8" opacity="0.8"/><circle cx="197.3" cy="401.5" r="1.2" fill="#8fd3c8" opacity="0.8"/><circle cx="207.7" cy="402.5" r="1.1" fill="#8fd3c8" opacity="0.8"/><circle cx="215.0" cy="406.2" r="1.3" fill="#8fd3c8" opacity="0.8"/><circle cx="223.0" cy="403.8" r="1.4" fill="#8fd3c8" opacity="0.8"/><circle cx="233.3" cy="401.5" r="1.0" fill="#8fd3c8" opacity="0.8"/><circle cx="244.0" cy="405.4" r="1.3" fill="#8fd3c8" opacity="0.8"/><circle cx="253.6" cy="403.4" r="1.5" fill="#8fd3c8" opacity="0.8"/><circle cx="264.6" cy="405.6" r="1.2" fill="#8fd3c8" opacity="0.8"/><circle cx="271.2" cy="401.4" r="1.8" fill="#8fd3c8" opacity="0.8"/><circle cx="282.0" cy="402.2" r="1.5" fill="#8fd3c8" opacity="0.8"/><circle cx="289.3" cy="404.6" r="1.4" fill="#8fd3c8" opacity="0.8"/><circle cx="300.2" cy="402.1" r="1.8" fill="#8fd3c8" opacity="0.8"/><circle cx="311.5" cy="404.4" r="1.8" fill="#8fd3c8" opacity="0.8"/><circle cx="322.1" cy="405.3" r="1.0" fill="#8fd3c8" opacity="0.8"/><g fill="#24414f"><circle cx="83.50" cy="379.59999999999997" r="3.1"/><circle cx="88.95" cy="379.59999999999997" r="3.1"/><circle cx="94.40" cy="379.59999999999997" r="3.1"/><circle cx="99.85" cy="379.59999999999997" r="3.1"/><circle cx="105.30" cy="379.59999999999997" r="3.1"/><circle cx="110.75" cy="379.59999999999997" r="3.1"/><circle cx="116.20" cy="379.59999999999997" r="3.1"/><circle cx="121.65" cy="379.59999999999997" r="3.1"/><circle cx="127.10" cy="379.59999999999997" r="3.1"/><circle cx="132.55" cy="379.59999999999997" r="3.1"/><circle cx="138.00" cy="379.59999999999997" r="3.1"/><circle cx="143.45" cy="379.59999999999997" r="3.1"/><circle cx="148.90" cy="379.59999999999997" r="3.1"/><circle cx="154.35" cy="379.59999999999997" r="3.1"/><circle cx="159.80" cy="379.59999999999997" r="3.1"/><circle cx="165.25" cy="379.59999999999997" r="3.1"/><circle cx="170.70" cy="379.59999999999997" r="3.1"/><circle cx="176.15" cy="379.59999999999997" r="3.1"/><circle cx="181.60" cy="379.59999999999997" r="3.1"/><circle cx="187.05" cy="379.59999999999997" r="3.1"/><circle cx="192.50" cy="379.59999999999997" r="3.1"/><circle cx="197.95" cy="379.59999999999997" r="3.1"/><circle cx="203.40" cy="379.59999999999997" r="3.1"/><circle cx="208.85" cy="379.59999999999997" r="3.1"/><circle cx="214.30" cy="379.59999999999997" r="3.1"/><circle cx="219.75" cy="379.59999999999997" r="3.1"/><circle cx="225.20" cy="379.59999999999997" r="3.1"/><circle cx="230.65" cy="379.59999999999997" r="3.1"/><circle cx="236.10" cy="379.59999999999997" r="3.1"/><circle cx="241.55" cy="379.59999999999997" r="3.1"/><circle cx="247.00" cy="379.59999999999997" r="3.1"/><circle cx="252.45" cy="379.59999999999997" r="3.1"/><circle cx="257.90" cy="379.59999999999997" r="3.1"/><circle cx="263.35" cy="379.59999999999997" r="3.1"/><circle cx="268.80" cy="379.59999999999997" r="3.1"/><circle cx="274.25" cy="379.59999999999997" r="3.1"/><circle cx="279.70" cy="379.59999999999997" r="3.1"/><circle cx="285.15" cy="379.59999999999997" r="3.1"/><circle cx="290.60" cy="379.59999999999997" r="3.1"/><circle cx="296.05" cy="379.59999999999997" r="3.1"/><circle cx="301.50" cy="379.59999999999997" r="3.1"/><circle cx="306.95" cy="379.59999999999997" r="3.1"/><circle cx="312.40" cy="379.59999999999997" r="3.1"/><circle cx="317.85" cy="379.59999999999997" r="3.1"/><circle cx="323.30" cy="379.59999999999997" r="3.1"/><circle cx="328.75" cy="379.59999999999997" r="3.1"/><circle cx="334.20" cy="379.59999999999997" r="3.1"/><circle cx="339.65" cy="379.59999999999997" r="3.1"/><circle cx="345.10" cy="379.59999999999997" r="3.1"/><circle cx="350.55" cy="379.59999999999997" r="3.1"/><circle cx="356.00" cy="379.59999999999997" r="3.1"/><circle cx="361.45" cy="379.59999999999997" r="3.1"/><circle cx="366.90" cy="379.59999999999997" r="3.1"/></g><g fill="#f4fcfc"><circle cx="83.50" cy="379.59999999999997" r="1.75"/><circle cx="88.95" cy="379.59999999999997" r="1.75"/><circle cx="94.40" cy="379.59999999999997" r="1.75"/><circle cx="99.85" cy="379.59999999999997" r="1.75"/><circle cx="105.30" cy="379.59999999999997" r="1.75"/><circle cx="110.75" cy="379.59999999999997" r="1.75"/><circle cx="116.20" cy="379.59999999999997" r="1.75"/><circle cx="121.65" cy="379.59999999999997" r="1.75"/><circle cx="127.10" cy="379.59999999999997" r="1.75"/><circle cx="132.55" cy="379.59999999999997" r="1.75"/><circle cx="138.00" cy="379.59999999999997" r="1.75"/><circle cx="143.45" cy="379.59999999999997" r="1.75"/><circle cx="148.90" cy="379.59999999999997" r="1.75"/><circle cx="154.35" cy="379.59999999999997" r="1.75"/><circle cx="159.80" cy="379.59999999999997" r="1.75"/><circle cx="165.25" cy="379.59999999999997" r="1.75"/><circle cx="170.70" cy="379.59999999999997" r="1.75"/><circle cx="176.15" cy="379.59999999999997" r="1.75"/><circle cx="181.60" cy="379.59999999999997" r="1.75"/><circle cx="187.05" cy="379.59999999999997" r="1.75"/><circle cx="192.50" cy="379.59999999999997" r="1.75"/><circle cx="197.95" cy="379.59999999999997" r="1.75"/><circle cx="203.40" cy="379.59999999999997" r="1.75"/><circle cx="208.85" cy="379.59999999999997" r="1.75"/><circle cx="214.30" cy="379.59999999999997" r="1.75"/><circle cx="219.75" cy="379.59999999999997" r="1.75"/><circle cx="225.20" cy="379.59999999999997" r="1.75"/><circle cx="230.65" cy="379.59999999999997" r="1.75"/><circle cx="236.10" cy="379.59999999999997" r="1.75"/><circle cx="241.55" cy="379.59999999999997" r="1.75"/><circle cx="247.00" cy="379.59999999999997" r="1.75"/><circle cx="252.45" cy="379.59999999999997" r="1.75"/><circle cx="257.90" cy="379.59999999999997" r="1.75"/><circle cx="263.35" cy="379.59999999999997" r="1.75"/><circle cx="268.80" cy="379.59999999999997" r="1.75"/><circle cx="274.25" cy="379.59999999999997" r="1.75"/><circle cx="279.70" cy="379.59999999999997" r="1.75"/><circle cx="285.15" cy="379.59999999999997" r="1.75"/><circle cx="290.60" cy="379.59999999999997" r="1.75"/><circle cx="296.05" cy="379.59999999999997" r="1.75"/><circle cx="301.50" cy="379.59999999999997" r="1.75"/><circle cx="306.95" cy="379.59999999999997" r="1.75"/><circle cx="312.40" cy="379.59999999999997" r="1.75"/><circle cx="317.85" cy="379.59999999999997" r="1.75"/><circle cx="323.30" cy="379.59999999999997" r="1.75"/><circle cx="328.75" cy="379.59999999999997" r="1.75"/><circle cx="334.20" cy="379.59999999999997" r="1.75"/><circle cx="339.65" cy="379.59999999999997" r="1.75"/><circle cx="345.10" cy="379.59999999999997" r="1.75"/><circle cx="350.55" cy="379.59999999999997" r="1.75"/><circle cx="356.00" cy="379.59999999999997" r="1.75"/><circle cx="361.45" cy="379.59999999999997" r="1.75"/><circle cx="366.90" cy="379.59999999999997" r="1.75"/></g><g fill="#24414f"><circle cx="83.50" cy="395.9" r="3.1"/><circle cx="88.95" cy="395.9" r="3.1"/><circle cx="94.40" cy="395.9" r="3.1"/><circle cx="99.85" cy="395.9" r="3.1"/><circle cx="105.30" cy="395.9" r="3.1"/><circle cx="110.75" cy="395.9" r="3.1"/><circle cx="116.20" cy="395.9" r="3.1"/><circle cx="121.65" cy="395.9" r="3.1"/><circle cx="127.10" cy="395.9" r="3.1"/><circle cx="132.55" cy="395.9" r="3.1"/><circle cx="138.00" cy="395.9" r="3.1"/><circle cx="143.45" cy="395.9" r="3.1"/><circle cx="148.90" cy="395.9" r="3.1"/><circle cx="154.35" cy="395.9" r="3.1"/><circle cx="159.80" cy="395.9" r="3.1"/><circle cx="165.25" cy="395.9" r="3.1"/><circle cx="170.70" cy="395.9" r="3.1"/><circle cx="176.15" cy="395.9" r="3.1"/><circle cx="181.60" cy="395.9" r="3.1"/><circle cx="187.05" cy="395.9" r="3.1"/><circle cx="192.50" cy="395.9" r="3.1"/><circle cx="197.95" cy="395.9" r="3.1"/><circle cx="203.40" cy="395.9" r="3.1"/><circle cx="208.85" cy="395.9" r="3.1"/><circle cx="214.30" cy="395.9" r="3.1"/><circle cx="219.75" cy="395.9" r="3.1"/><circle cx="225.20" cy="395.9" r="3.1"/><circle cx="230.65" cy="395.9" r="3.1"/><circle cx="236.10" cy="395.9" r="3.1"/><circle cx="241.55" cy="395.9" r="3.1"/><circle cx="247.00" cy="395.9" r="3.1"/><circle cx="252.45" cy="395.9" r="3.1"/><circle cx="257.90" cy="395.9" r="3.1"/><circle cx="263.35" cy="395.9" r="3.1"/><circle cx="268.80" cy="395.9" r="3.1"/><circle cx="274.25" cy="395.9" r="3.1"/><circle cx="279.70" cy="395.9" r="3.1"/><circle cx="285.15" cy="395.9" r="3.1"/><circle cx="290.60" cy="395.9" r="3.1"/><circle cx="296.05" cy="395.9" r="3.1"/><circle cx="301.50" cy="395.9" r="3.1"/><circle cx="306.95" cy="395.9" r="3.1"/><circle cx="312.40" cy="395.9" r="3.1"/><circle cx="317.85" cy="395.9" r="3.1"/><circle cx="323.30" cy="395.9" r="3.1"/><circle cx="328.75" cy="395.9" r="3.1"/><circle cx="334.20" cy="395.9" r="3.1"/><circle cx="339.65" cy="395.9" r="3.1"/><circle cx="345.10" cy="395.9" r="3.1"/><circle cx="350.55" cy="395.9" r="3.1"/><circle cx="356.00" cy="395.9" r="3.1"/><circle cx="361.45" cy="395.9" r="3.1"/><circle cx="366.90" cy="395.9" r="3.1"/></g><g fill="#f4fcfc"><circle cx="83.50" cy="395.9" r="1.75"/><circle cx="88.95" cy="395.9" r="1.75"/><circle cx="94.40" cy="395.9" r="1.75"/><circle cx="99.85" cy="395.9" r="1.75"/><circle cx="105.30" cy="395.9" r="1.75"/><circle cx="110.75" cy="395.9" r="1.75"/><circle cx="116.20" cy="395.9" r="1.75"/><circle cx="121.65" cy="395.9" r="1.75"/><circle cx="127.10" cy="395.9" r="1.75"/><circle cx="132.55" cy="395.9" r="1.75"/><circle cx="138.00" cy="395.9" r="1.75"/><circle cx="143.45" cy="395.9" r="1.75"/><circle cx="148.90" cy="395.9" r="1.75"/><circle cx="154.35" cy="395.9" r="1.75"/><circle cx="159.80" cy="395.9" r="1.75"/><circle cx="165.25" cy="395.9" r="1.75"/><circle cx="170.70" cy="395.9" r="1.75"/><circle cx="176.15" cy="395.9" r="1.75"/><circle cx="181.60" cy="395.9" r="1.75"/><circle cx="187.05" cy="395.9" r="1.75"/><circle cx="192.50" cy="395.9" r="1.75"/><circle cx="197.95" cy="395.9" r="1.75"/><circle cx="203.40" cy="395.9" r="1.75"/><circle cx="208.85" cy="395.9" r="1.75"/><circle cx="214.30" cy="395.9" r="1.75"/><circle cx="219.75" cy="395.9" r="1.75"/><circle cx="225.20" cy="395.9" r="1.75"/><circle cx="230.65" cy="395.9" r="1.75"/><circle cx="236.10" cy="395.9" r="1.75"/><circle cx="241.55" cy="395.9" r="1.75"/><circle cx="247.00" cy="395.9" r="1.75"/><circle cx="252.45" cy="395.9" r="1.75"/><circle cx="257.90" cy="395.9" r="1.75"/><circle cx="263.35" cy="395.9" r="1.75"/><circle cx="268.80" cy="395.9" r="1.75"/><circle cx="274.25" cy="395.9" r="1.75"/><circle cx="279.70" cy="395.9" r="1.75"/><circle cx="285.15" cy="395.9" r="1.75"/><circle cx="290.60" cy="395.9" r="1.75"/><circle cx="296.05" cy="395.9" r="1.75"/><circle cx="301.50" cy="395.9" r="1.75"/><circle cx="306.95" cy="395.9" r="1.75"/><circle cx="312.40" cy="395.9" r="1.75"/><circle cx="317.85" cy="395.9" r="1.75"/><circle cx="323.30" cy="395.9" r="1.75"/><circle cx="328.75" cy="395.9" r="1.75"/><circle cx="334.20" cy="395.9" r="1.75"/><circle cx="339.65" cy="395.9" r="1.75"/><circle cx="345.10" cy="395.9" r="1.75"/><circle cx="350.55" cy="395.9" r="1.75"/><circle cx="356.00" cy="395.9" r="1.75"/><circle cx="361.45" cy="395.9" r="1.75"/><circle cx="366.90" cy="395.9" r="1.75"/></g><circle cx="188.3" cy="385.0" r="3.1" fill="#24414f"/><circle cx="188.3" cy="390.4" r="3.1" fill="#24414f"/><circle cx="188.3" cy="385.0" r="1.75" fill="#f4fcfc"/><circle cx="188.3" cy="390.4" r="1.75" fill="#f4fcfc"/><rect x="190" y="375.9" width="5.4" height="23.5" rx="2.7" fill="#24414f"/><rect x="191.5" y="377.4" width="2.4" height="5.5" rx="1.2" fill="#f4fcfc"/><rect x="191.5" y="384.9" width="2.4" height="5.5" rx="1.2" fill="#f4fcfc"/><rect x="191.5" y="392.4" width="2.4" height="5.5" rx="1.2" fill="#f4fcfc"/><circle cx="330" cy="369.2" r="3.1" fill="#24414f"/><circle cx="330" cy="374.4" r="3.1" fill="#24414f"/><circle cx="330" cy="401.0" r="3.1" fill="#24414f"/><circle cx="330" cy="406.2" r="3.1" fill="#24414f"/><rect x="332.2" y="364.4" width="5.2" height="19" fill="#24414f"/><rect x="332.2" y="392.4" width="5.2" height="19" fill="#24414f"/><rect x="336.4" y="364.4" width="1.8" height="12" fill="#253f4f"/><rect x="336.4" y="398.9" width="1.8" height="12" fill="#253f4f"/><rect x="338" y="365.4" width="40" height="11" fill="#2f8cc4" opacity="0.3"/><circle cx="330" cy="369.2" r="1.75" fill="#f4fcfc"/><circle cx="330" cy="374.4" r="1.75" fill="#f4fcfc"/><circle cx="330" cy="401.0" r="1.75" fill="#f4fcfc"/><circle cx="330" cy="406.2" r="1.75" fill="#f4fcfc"/><rect x="333.6" y="365.9" width="2.4" height="9.5" rx="1.2" fill="#f4fcfc"/><rect x="333.6" y="376.9" width="2.4" height="6.0" rx="1.2" fill="#f4fcfc"/><rect x="333.6" y="392.9" width="2.4" height="6.0" rx="1.2" fill="#f4fcfc"/><rect x="333.6" y="400.4" width="2.4" height="9.0" rx="1.2" fill="#f4fcfc"/></g><polyline points="95.5,363.9 78,392.9 108.5,410.9" fill="none" stroke="#253f4f" stroke-width="1" opacity="0.4"/><polyline points="351,363.9 370,375.9 347,410.9" fill="none" stroke="#253f4f" stroke-width="1.5"/><clipPath id="st1"><polygon points="95.5,420.2 351,420.2 370,432.2 347,467.2 108.5,467.2 78,449.2"/></clipPath><polygon points="100,414.7 344,414.7 351,420.7 96,420.7" fill="#def5f8"/><g clip-path="url(#st1)"><rect x="70" y="418.7" width="310" height="52" fill="#40b3ea"/><rect x="70" y="418.7" width="70" height="52" fill="url(#leftshade)"/><rect x="70" y="419.7" width="310" height="2.2" fill="#253f4f"/><rect x="70" y="465.5" width="310" height="2" fill="#253f4f"/><rect x="110" y="426.7" width="120" height="0.8" fill="#2f7fae" opacity="0.5"/><rect x="151.6" y="438.2" width="33.400000000000006" height="11.5" rx="5.5" fill="#f4fcfc"/><circle cx="155.6" cy="441.7" r="1.3" fill="#8fd3c8" opacity="0.8"/><circle cx="180" cy="442.7" r="1.6" fill="#8fd3c8" opacity="0.8"/><rect x="225.5" y="454.7" width="107.5" height="11" rx="5.5" fill="#f4fcfc"/><circle cx="233.5" cy="462.4" r="1.2" fill="#8fd3c8" opacity="0.8"/><circle cx="240.2" cy="458.9" r="1.3" fill="#8fd3c8" opacity="0.8"/><circle cx="251.1" cy="462.4" r="1.5" fill="#8fd3c8" opacity="0.8"/><circle cx="259.4" cy="462.7" r="1.0" fill="#8fd3c8" opacity="0.8"/><circle cx="271.2" cy="460.3" r="1.3" fill="#8fd3c8" opacity="0.8"/><circle cx="279.3" cy="462.5" r="1.4" fill="#8fd3c8" opacity="0.8"/><circle cx="289.4" cy="460.6" r="1.2" fill="#8fd3c8" opacity="0.8"/><circle cx="298.8" cy="461.5" r="1.0" fill="#8fd3c8" opacity="0.8"/><circle cx="305.2" cy="460.6" r="1.8" fill="#8fd3c8" opacity="0.8"/><circle cx="312.0" cy="460.0" r="1.4" fill="#8fd3c8" opacity="0.8"/><circle cx="318.9" cy="461.8" r="1.5" fill="#8fd3c8" opacity="0.8"/><g fill="#24414f"><circle cx="83.50" cy="435.9" r="3.1"/><circle cx="88.95" cy="435.9" r="3.1"/><circle cx="94.40" cy="435.9" r="3.1"/><circle cx="99.85" cy="435.9" r="3.1"/><circle cx="105.30" cy="435.9" r="3.1"/><circle cx="110.75" cy="435.9" r="3.1"/><circle cx="116.20" cy="435.9" r="3.1"/><circle cx="121.65" cy="435.9" r="3.1"/><circle cx="127.10" cy="435.9" r="3.1"/><circle cx="132.55" cy="435.9" r="3.1"/><circle cx="138.00" cy="435.9" r="3.1"/><circle cx="143.45" cy="435.9" r="3.1"/><circle cx="148.90" cy="435.9" r="3.1"/><circle cx="154.35" cy="435.9" r="3.1"/><circle cx="159.80" cy="435.9" r="3.1"/><circle cx="165.25" cy="435.9" r="3.1"/><circle cx="170.70" cy="435.9" r="3.1"/><circle cx="176.15" cy="435.9" r="3.1"/><circle cx="181.60" cy="435.9" r="3.1"/><circle cx="187.05" cy="435.9" r="3.1"/><circle cx="192.50" cy="435.9" r="3.1"/><circle cx="197.95" cy="435.9" r="3.1"/><circle cx="203.40" cy="435.9" r="3.1"/><circle cx="208.85" cy="435.9" r="3.1"/><circle cx="214.30" cy="435.9" r="3.1"/><circle cx="219.75" cy="435.9" r="3.1"/><circle cx="225.20" cy="435.9" r="3.1"/><circle cx="230.65" cy="435.9" r="3.1"/><circle cx="236.10" cy="435.9" r="3.1"/><circle cx="241.55" cy="435.9" r="3.1"/><circle cx="247.00" cy="435.9" r="3.1"/><circle cx="252.45" cy="435.9" r="3.1"/><circle cx="257.90" cy="435.9" r="3.1"/><circle cx="263.35" cy="435.9" r="3.1"/><circle cx="268.80" cy="435.9" r="3.1"/><circle cx="274.25" cy="435.9" r="3.1"/><circle cx="279.70" cy="435.9" r="3.1"/><circle cx="285.15" cy="435.9" r="3.1"/><circle cx="290.60" cy="435.9" r="3.1"/><circle cx="296.05" cy="435.9" r="3.1"/><circle cx="301.50" cy="435.9" r="3.1"/><circle cx="306.95" cy="435.9" r="3.1"/><circle cx="312.40" cy="435.9" r="3.1"/><circle cx="317.85" cy="435.9" r="3.1"/><circle cx="323.30" cy="435.9" r="3.1"/><circle cx="328.75" cy="435.9" r="3.1"/><circle cx="334.20" cy="435.9" r="3.1"/><circle cx="339.65" cy="435.9" r="3.1"/><circle cx="345.10" cy="435.9" r="3.1"/><circle cx="350.55" cy="435.9" r="3.1"/><circle cx="356.00" cy="435.9" r="3.1"/><circle cx="361.45" cy="435.9" r="3.1"/><circle cx="366.90" cy="435.9" r="3.1"/></g><g fill="#f4fcfc"><circle cx="83.50" cy="435.9" r="1.75"/><circle cx="88.95" cy="435.9" r="1.75"/><circle cx="94.40" cy="435.9" r="1.75"/><circle cx="99.85" cy="435.9" r="1.75"/><circle cx="105.30" cy="435.9" r="1.75"/><circle cx="110.75" cy="435.9" r="1.75"/><circle cx="116.20" cy="435.9" r="1.75"/><circle cx="121.65" cy="435.9" r="1.75"/><circle cx="127.10" cy="435.9" r="1.75"/><circle cx="132.55" cy="435.9" r="1.75"/><circle cx="138.00" cy="435.9" r="1.75"/><circle cx="143.45" cy="435.9" r="1.75"/><circle cx="148.90" cy="435.9" r="1.75"/><circle cx="154.35" cy="435.9" r="1.75"/><circle cx="159.80" cy="435.9" r="1.75"/><circle cx="165.25" cy="435.9" r="1.75"/><circle cx="170.70" cy="435.9" r="1.75"/><circle cx="176.15" cy="435.9" r="1.75"/><circle cx="181.60" cy="435.9" r="1.75"/><circle cx="187.05" cy="435.9" r="1.75"/><circle cx="192.50" cy="435.9" r="1.75"/><circle cx="197.95" cy="435.9" r="1.75"/><circle cx="203.40" cy="435.9" r="1.75"/><circle cx="208.85" cy="435.9" r="1.75"/><circle cx="214.30" cy="435.9" r="1.75"/><circle cx="219.75" cy="435.9" r="1.75"/><circle cx="225.20" cy="435.9" r="1.75"/><circle cx="230.65" cy="435.9" r="1.75"/><circle cx="236.10" cy="435.9" r="1.75"/><circle cx="241.55" cy="435.9" r="1.75"/><circle cx="247.00" cy="435.9" r="1.75"/><circle cx="252.45" cy="435.9" r="1.75"/><circle cx="257.90" cy="435.9" r="1.75"/><circle cx="263.35" cy="435.9" r="1.75"/><circle cx="268.80" cy="435.9" r="1.75"/><circle cx="274.25" cy="435.9" r="1.75"/><circle cx="279.70" cy="435.9" r="1.75"/><circle cx="285.15" cy="435.9" r="1.75"/><circle cx="290.60" cy="435.9" r="1.75"/><circle cx="296.05" cy="435.9" r="1.75"/><circle cx="301.50" cy="435.9" r="1.75"/><circle cx="306.95" cy="435.9" r="1.75"/><circle cx="312.40" cy="435.9" r="1.75"/><circle cx="317.85" cy="435.9" r="1.75"/><circle cx="323.30" cy="435.9" r="1.75"/><circle cx="328.75" cy="435.9" r="1.75"/><circle cx="334.20" cy="435.9" r="1.75"/><circle cx="339.65" cy="435.9" r="1.75"/><circle cx="345.10" cy="435.9" r="1.75"/><circle cx="350.55" cy="435.9" r="1.75"/><circle cx="356.00" cy="435.9" r="1.75"/><circle cx="361.45" cy="435.9" r="1.75"/><circle cx="366.90" cy="435.9" r="1.75"/></g><g fill="#24414f"><circle cx="83.50" cy="452.2" r="3.1"/><circle cx="88.95" cy="452.2" r="3.1"/><circle cx="94.40" cy="452.2" r="3.1"/><circle cx="99.85" cy="452.2" r="3.1"/><circle cx="105.30" cy="452.2" r="3.1"/><circle cx="110.75" cy="452.2" r="3.1"/><circle cx="116.20" cy="452.2" r="3.1"/><circle cx="121.65" cy="452.2" r="3.1"/><circle cx="127.10" cy="452.2" r="3.1"/><circle cx="132.55" cy="452.2" r="3.1"/><circle cx="138.00" cy="452.2" r="3.1"/><circle cx="143.45" cy="452.2" r="3.1"/><circle cx="148.90" cy="452.2" r="3.1"/><circle cx="154.35" cy="452.2" r="3.1"/><circle cx="159.80" cy="452.2" r="3.1"/><circle cx="165.25" cy="452.2" r="3.1"/><circle cx="170.70" cy="452.2" r="3.1"/><circle cx="176.15" cy="452.2" r="3.1"/><circle cx="181.60" cy="452.2" r="3.1"/><circle cx="187.05" cy="452.2" r="3.1"/><circle cx="192.50" cy="452.2" r="3.1"/><circle cx="197.95" cy="452.2" r="3.1"/><circle cx="203.40" cy="452.2" r="3.1"/><circle cx="208.85" cy="452.2" r="3.1"/><circle cx="214.30" cy="452.2" r="3.1"/><circle cx="219.75" cy="452.2" r="3.1"/><circle cx="225.20" cy="452.2" r="3.1"/><circle cx="230.65" cy="452.2" r="3.1"/><circle cx="236.10" cy="452.2" r="3.1"/><circle cx="241.55" cy="452.2" r="3.1"/><circle cx="247.00" cy="452.2" r="3.1"/><circle cx="252.45" cy="452.2" r="3.1"/><circle cx="257.90" cy="452.2" r="3.1"/><circle cx="263.35" cy="452.2" r="3.1"/><circle cx="268.80" cy="452.2" r="3.1"/><circle cx="274.25" cy="452.2" r="3.1"/><circle cx="279.70" cy="452.2" r="3.1"/><circle cx="285.15" cy="452.2" r="3.1"/><circle cx="290.60" cy="452.2" r="3.1"/><circle cx="296.05" cy="452.2" r="3.1"/><circle cx="301.50" cy="452.2" r="3.1"/><circle cx="306.95" cy="452.2" r="3.1"/><circle cx="312.40" cy="452.2" r="3.1"/><circle cx="317.85" cy="452.2" r="3.1"/><circle cx="323.30" cy="452.2" r="3.1"/><circle cx="328.75" cy="452.2" r="3.1"/><circle cx="334.20" cy="452.2" r="3.1"/><circle cx="339.65" cy="452.2" r="3.1"/><circle cx="345.10" cy="452.2" r="3.1"/><circle cx="350.55" cy="452.2" r="3.1"/><circle cx="356.00" cy="452.2" r="3.1"/><circle cx="361.45" cy="452.2" r="3.1"/><circle cx="366.90" cy="452.2" r="3.1"/></g><g fill="#f4fcfc"><circle cx="83.50" cy="452.2" r="1.75"/><circle cx="88.95" cy="452.2" r="1.75"/><circle cx="94.40" cy="452.2" r="1.75"/><circle cx="99.85" cy="452.2" r="1.75"/><circle cx="105.30" cy="452.2" r="1.75"/><circle cx="110.75" cy="452.2" r="1.75"/><circle cx="116.20" cy="452.2" r="1.75"/><circle cx="121.65" cy="452.2" r="1.75"/><circle cx="127.10" cy="452.2" r="1.75"/><circle cx="132.55" cy="452.2" r="1.75"/><circle cx="138.00" cy="452.2" r="1.75"/><circle cx="143.45" cy="452.2" r="1.75"/><circle cx="148.90" cy="452.2" r="1.75"/><circle cx="154.35" cy="452.2" r="1.75"/><circle cx="159.80" cy="452.2" r="1.75"/><circle cx="165.25" cy="452.2" r="1.75"/><circle cx="170.70" cy="452.2" r="1.75"/><circle cx="176.15" cy="452.2" r="1.75"/><circle cx="181.60" cy="452.2" r="1.75"/><circle cx="187.05" cy="452.2" r="1.75"/><circle cx="192.50" cy="452.2" r="1.75"/><circle cx="197.95" cy="452.2" r="1.75"/><circle cx="203.40" cy="452.2" r="1.75"/><circle cx="208.85" cy="452.2" r="1.75"/><circle cx="214.30" cy="452.2" r="1.75"/><circle cx="219.75" cy="452.2" r="1.75"/><circle cx="225.20" cy="452.2" r="1.75"/><circle cx="230.65" cy="452.2" r="1.75"/><circle cx="236.10" cy="452.2" r="1.75"/><circle cx="241.55" cy="452.2" r="1.75"/><circle cx="247.00" cy="452.2" r="1.75"/><circle cx="252.45" cy="452.2" r="1.75"/><circle cx="257.90" cy="452.2" r="1.75"/><circle cx="263.35" cy="452.2" r="1.75"/><circle cx="268.80" cy="452.2" r="1.75"/><circle cx="274.25" cy="452.2" r="1.75"/><circle cx="279.70" cy="452.2" r="1.75"/><circle cx="285.15" cy="452.2" r="1.75"/><circle cx="290.60" cy="452.2" r="1.75"/><circle cx="296.05" cy="452.2" r="1.75"/><circle cx="301.50" cy="452.2" r="1.75"/><circle cx="306.95" cy="452.2" r="1.75"/><circle cx="312.40" cy="452.2" r="1.75"/><circle cx="317.85" cy="452.2" r="1.75"/><circle cx="323.30" cy="452.2" r="1.75"/><circle cx="328.75" cy="452.2" r="1.75"/><circle cx="334.20" cy="452.2" r="1.75"/><circle cx="339.65" cy="452.2" r="1.75"/><circle cx="345.10" cy="452.2" r="1.75"/><circle cx="350.55" cy="452.2" r="1.75"/><circle cx="356.00" cy="452.2" r="1.75"/><circle cx="361.45" cy="452.2" r="1.75"/><circle cx="366.90" cy="452.2" r="1.75"/></g><circle cx="188.3" cy="441.3" r="3.1" fill="#24414f"/><circle cx="188.3" cy="446.7" r="3.1" fill="#24414f"/><circle cx="188.3" cy="441.3" r="1.75" fill="#f4fcfc"/><circle cx="188.3" cy="446.7" r="1.75" fill="#f4fcfc"/><rect x="190" y="432.2" width="5.4" height="23.5" rx="2.7" fill="#24414f"/><rect x="191.5" y="433.7" width="2.4" height="5.5" rx="1.2" fill="#f4fcfc"/><rect x="191.5" y="441.2" width="2.4" height="5.5" rx="1.2" fill="#f4fcfc"/><rect x="191.5" y="448.7" width="2.4" height="5.5" rx="1.2" fill="#f4fcfc"/><circle cx="330" cy="425.5" r="3.1" fill="#24414f"/><circle cx="330" cy="430.7" r="3.1" fill="#24414f"/><circle cx="330" cy="457.3" r="3.1" fill="#24414f"/><circle cx="330" cy="462.5" r="3.1" fill="#24414f"/><rect x="332.2" y="420.7" width="5.2" height="19" fill="#24414f"/><rect x="332.2" y="448.7" width="5.2" height="19" fill="#24414f"/><rect x="336.4" y="420.7" width="1.8" height="12" fill="#253f4f"/><rect x="336.4" y="455.2" width="1.8" height="12" fill="#253f4f"/><rect x="338" y="421.7" width="40" height="11" fill="#2f8cc4" opacity="0.3"/><circle cx="330" cy="425.5" r="1.75" fill="#f4fcfc"/><circle cx="330" cy="430.7" r="1.75" fill="#f4fcfc"/><circle cx="330" cy="457.3" r="1.75" fill="#f4fcfc"/><circle cx="330" cy="462.5" r="1.75" fill="#f4fcfc"/><rect x="333.6" y="422.2" width="2.4" height="9.5" rx="1.2" fill="#f4fcfc"/><rect x="333.6" y="433.2" width="2.4" height="6.0" rx="1.2" fill="#f4fcfc"/><rect x="333.6" y="449.2" width="2.4" height="6.0" rx="1.2" fill="#f4fcfc"/><rect x="333.6" y="456.7" width="2.4" height="9.0" rx="1.2" fill="#f4fcfc"/></g><polyline points="95.5,420.2 78,449.2 108.5,467.2" fill="none" stroke="#253f4f" stroke-width="1" opacity="0.4"/><polyline points="351,420.2 370,432.2 347,467.2" fill="none" stroke="#253f4f" stroke-width="1.5"/><clipPath id="st2"><polygon points="95.5,475.7 351,475.7 370,487.7 347,522.7 108.5,522.7 78,504.7"/></clipPath><polygon points="100,470.2 344,470.2 351,476.2 96,476.2" fill="#def5f8"/><g clip-path="url(#st2)"><rect x="70" y="474.2" width="310" height="52" fill="#40b3ea"/><rect x="70" y="474.2" width="70" height="52" fill="url(#leftshade)"/><rect x="70" y="475.2" width="310" height="2.2" fill="#253f4f"/><rect x="70" y="521.0" width="310" height="2" fill="#253f4f"/><rect x="110" y="482.2" width="120" height="0.8" fill="#2f7fae" opacity="0.5"/><rect x="171.5" y="493.7" width="13.5" height="11.5" rx="5.5" fill="#f4fcfc"/><circle cx="175.5" cy="497.2" r="1.3" fill="#8fd3c8" opacity="0.8"/><circle cx="180" cy="498.2" r="1.6" fill="#8fd3c8" opacity="0.8"/><rect x="268.8" y="510.2" width="64.19999999999999" height="11" rx="5.5" fill="#f4fcfc"/><circle cx="276.8" cy="517.2" r="1.7" fill="#8fd3c8" opacity="0.8"/><circle cx="287.1" cy="517.7" r="1.3" fill="#8fd3c8" opacity="0.8"/><circle cx="293.6" cy="517.8" r="1.6" fill="#8fd3c8" opacity="0.8"/><circle cx="301.8" cy="514.0" r="1.5" fill="#8fd3c8" opacity="0.8"/><circle cx="308.0" cy="517.2" r="1.4" fill="#8fd3c8" opacity="0.8"/><circle cx="315.4" cy="515.3" r="1.5" fill="#8fd3c8" opacity="0.8"/><g fill="#24414f"><circle cx="83.50" cy="491.4" r="3.1"/><circle cx="88.95" cy="491.4" r="3.1"/><circle cx="94.40" cy="491.4" r="3.1"/><circle cx="99.85" cy="491.4" r="3.1"/><circle cx="105.30" cy="491.4" r="3.1"/><circle cx="110.75" cy="491.4" r="3.1"/><circle cx="116.20" cy="491.4" r="3.1"/><circle cx="121.65" cy="491.4" r="3.1"/><circle cx="127.10" cy="491.4" r="3.1"/><circle cx="132.55" cy="491.4" r="3.1"/><circle cx="138.00" cy="491.4" r="3.1"/><circle cx="143.45" cy="491.4" r="3.1"/><circle cx="148.90" cy="491.4" r="3.1"/><circle cx="154.35" cy="491.4" r="3.1"/><circle cx="159.80" cy="491.4" r="3.1"/><circle cx="165.25" cy="491.4" r="3.1"/><circle cx="170.70" cy="491.4" r="3.1"/><circle cx="176.15" cy="491.4" r="3.1"/><circle cx="181.60" cy="491.4" r="3.1"/><circle cx="187.05" cy="491.4" r="3.1"/><circle cx="192.50" cy="491.4" r="3.1"/><circle cx="197.95" cy="491.4" r="3.1"/><circle cx="203.40" cy="491.4" r="3.1"/><circle cx="208.85" cy="491.4" r="3.1"/><circle cx="214.30" cy="491.4" r="3.1"/><circle cx="219.75" cy="491.4" r="3.1"/><circle cx="225.20" cy="491.4" r="3.1"/><circle cx="230.65" cy="491.4" r="3.1"/><circle cx="236.10" cy="491.4" r="3.1"/><circle cx="241.55" cy="491.4" r="3.1"/><circle cx="247.00" cy="491.4" r="3.1"/><circle cx="252.45" cy="491.4" r="3.1"/><circle cx="257.90" cy="491.4" r="3.1"/><circle cx="263.35" cy="491.4" r="3.1"/><circle cx="268.80" cy="491.4" r="3.1"/><circle cx="274.25" cy="491.4" r="3.1"/><circle cx="279.70" cy="491.4" r="3.1"/><circle cx="285.15" cy="491.4" r="3.1"/><circle cx="290.60" cy="491.4" r="3.1"/><circle cx="296.05" cy="491.4" r="3.1"/><circle cx="301.50" cy="491.4" r="3.1"/><circle cx="306.95" cy="491.4" r="3.1"/><circle cx="312.40" cy="491.4" r="3.1"/><circle cx="317.85" cy="491.4" r="3.1"/><circle cx="323.30" cy="491.4" r="3.1"/><circle cx="328.75" cy="491.4" r="3.1"/><circle cx="334.20" cy="491.4" r="3.1"/><circle cx="339.65" cy="491.4" r="3.1"/><circle cx="345.10" cy="491.4" r="3.1"/><circle cx="350.55" cy="491.4" r="3.1"/><circle cx="356.00" cy="491.4" r="3.1"/><circle cx="361.45" cy="491.4" r="3.1"/><circle cx="366.90" cy="491.4" r="3.1"/></g><g fill="#f4fcfc"><circle cx="83.50" cy="491.4" r="1.75"/><circle cx="88.95" cy="491.4" r="1.75"/><circle cx="94.40" cy="491.4" r="1.75"/><circle cx="99.85" cy="491.4" r="1.75"/><circle cx="105.30" cy="491.4" r="1.75"/><circle cx="110.75" cy="491.4" r="1.75"/><circle cx="116.20" cy="491.4" r="1.75"/><circle cx="121.65" cy="491.4" r="1.75"/><circle cx="127.10" cy="491.4" r="1.75"/><circle cx="132.55" cy="491.4" r="1.75"/><circle cx="138.00" cy="491.4" r="1.75"/><circle cx="143.45" cy="491.4" r="1.75"/><circle cx="148.90" cy="491.4" r="1.75"/><circle cx="154.35" cy="491.4" r="1.75"/><circle cx="159.80" cy="491.4" r="1.75"/><circle cx="165.25" cy="491.4" r="1.75"/><circle cx="170.70" cy="491.4" r="1.75"/><circle cx="176.15" cy="491.4" r="1.75"/><circle cx="181.60" cy="491.4" r="1.75"/><circle cx="187.05" cy="491.4" r="1.75"/><circle cx="192.50" cy="491.4" r="1.75"/><circle cx="197.95" cy="491.4" r="1.75"/><circle cx="203.40" cy="491.4" r="1.75"/><circle cx="208.85" cy="491.4" r="1.75"/><circle cx="214.30" cy="491.4" r="1.75"/><circle cx="219.75" cy="491.4" r="1.75"/><circle cx="225.20" cy="491.4" r="1.75"/><circle cx="230.65" cy="491.4" r="1.75"/><circle cx="236.10" cy="491.4" r="1.75"/><circle cx="241.55" cy="491.4" r="1.75"/><circle cx="247.00" cy="491.4" r="1.75"/><circle cx="252.45" cy="491.4" r="1.75"/><circle cx="257.90" cy="491.4" r="1.75"/><circle cx="263.35" cy="491.4" r="1.75"/><circle cx="268.80" cy="491.4" r="1.75"/><circle cx="274.25" cy="491.4" r="1.75"/><circle cx="279.70" cy="491.4" r="1.75"/><circle cx="285.15" cy="491.4" r="1.75"/><circle cx="290.60" cy="491.4" r="1.75"/><circle cx="296.05" cy="491.4" r="1.75"/><circle cx="301.50" cy="491.4" r="1.75"/><circle cx="306.95" cy="491.4" r="1.75"/><circle cx="312.40" cy="491.4" r="1.75"/><circle cx="317.85" cy="491.4" r="1.75"/><circle cx="323.30" cy="491.4" r="1.75"/><circle cx="328.75" cy="491.4" r="1.75"/><circle cx="334.20" cy="491.4" r="1.75"/><circle cx="339.65" cy="491.4" r="1.75"/><circle cx="345.10" cy="491.4" r="1.75"/><circle cx="350.55" cy="491.4" r="1.75"/><circle cx="356.00" cy="491.4" r="1.75"/><circle cx="361.45" cy="491.4" r="1.75"/><circle cx="366.90" cy="491.4" r="1.75"/></g><g fill="#24414f"><circle cx="83.50" cy="507.7" r="3.1"/><circle cx="88.95" cy="507.7" r="3.1"/><circle cx="94.40" cy="507.7" r="3.1"/><circle cx="99.85" cy="507.7" r="3.1"/><circle cx="105.30" cy="507.7" r="3.1"/><circle cx="110.75" cy="507.7" r="3.1"/><circle cx="116.20" cy="507.7" r="3.1"/><circle cx="121.65" cy="507.7" r="3.1"/><circle cx="127.10" cy="507.7" r="3.1"/><circle cx="132.55" cy="507.7" r="3.1"/><circle cx="138.00" cy="507.7" r="3.1"/><circle cx="143.45" cy="507.7" r="3.1"/><circle cx="148.90" cy="507.7" r="3.1"/><circle cx="154.35" cy="507.7" r="3.1"/><circle cx="159.80" cy="507.7" r="3.1"/><circle cx="165.25" cy="507.7" r="3.1"/><circle cx="170.70" cy="507.7" r="3.1"/><circle cx="176.15" cy="507.7" r="3.1"/><circle cx="181.60" cy="507.7" r="3.1"/><circle cx="187.05" cy="507.7" r="3.1"/><circle cx="192.50" cy="507.7" r="3.1"/><circle cx="197.95" cy="507.7" r="3.1"/><circle cx="203.40" cy="507.7" r="3.1"/><circle cx="208.85" cy="507.7" r="3.1"/><circle cx="214.30" cy="507.7" r="3.1"/><circle cx="219.75" cy="507.7" r="3.1"/><circle cx="225.20" cy="507.7" r="3.1"/><circle cx="230.65" cy="507.7" r="3.1"/><circle cx="236.10" cy="507.7" r="3.1"/><circle cx="241.55" cy="507.7" r="3.1"/><circle cx="247.00" cy="507.7" r="3.1"/><circle cx="252.45" cy="507.7" r="3.1"/><circle cx="257.90" cy="507.7" r="3.1"/><circle cx="263.35" cy="507.7" r="3.1"/><circle cx="268.80" cy="507.7" r="3.1"/><circle cx="274.25" cy="507.7" r="3.1"/><circle cx="279.70" cy="507.7" r="3.1"/><circle cx="285.15" cy="507.7" r="3.1"/><circle cx="290.60" cy="507.7" r="3.1"/><circle cx="296.05" cy="507.7" r="3.1"/><circle cx="301.50" cy="507.7" r="3.1"/><circle cx="306.95" cy="507.7" r="3.1"/><circle cx="312.40" cy="507.7" r="3.1"/><circle cx="317.85" cy="507.7" r="3.1"/><circle cx="323.30" cy="507.7" r="3.1"/><circle cx="328.75" cy="507.7" r="3.1"/><circle cx="334.20" cy="507.7" r="3.1"/><circle cx="339.65" cy="507.7" r="3.1"/><circle cx="345.10" cy="507.7" r="3.1"/><circle cx="350.55" cy="507.7" r="3.1"/><circle cx="356.00" cy="507.7" r="3.1"/><circle cx="361.45" cy="507.7" r="3.1"/><circle cx="366.90" cy="507.7" r="3.1"/></g><g fill="#f4fcfc"><circle cx="83.50" cy="507.7" r="1.75"/><circle cx="88.95" cy="507.7" r="1.75"/><circle cx="94.40" cy="507.7" r="1.75"/><circle cx="99.85" cy="507.7" r="1.75"/><circle cx="105.30" cy="507.7" r="1.75"/><circle cx="110.75" cy="507.7" r="1.75"/><circle cx="116.20" cy="507.7" r="1.75"/><circle cx="121.65" cy="507.7" r="1.75"/><circle cx="127.10" cy="507.7" r="1.75"/><circle cx="132.55" cy="507.7" r="1.75"/><circle cx="138.00" cy="507.7" r="1.75"/><circle cx="143.45" cy="507.7" r="1.75"/><circle cx="148.90" cy="507.7" r="1.75"/><circle cx="154.35" cy="507.7" r="1.75"/><circle cx="159.80" cy="507.7" r="1.75"/><circle cx="165.25" cy="507.7" r="1.75"/><circle cx="170.70" cy="507.7" r="1.75"/><circle cx="176.15" cy="507.7" r="1.75"/><circle cx="181.60" cy="507.7" r="1.75"/><circle cx="187.05" cy="507.7" r="1.75"/><circle cx="192.50" cy="507.7" r="1.75"/><circle cx="197.95" cy="507.7" r="1.75"/><circle cx="203.40" cy="507.7" r="1.75"/><circle cx="208.85" cy="507.7" r="1.75"/><circle cx="214.30" cy="507.7" r="1.75"/><circle cx="219.75" cy="507.7" r="1.75"/><circle cx="225.20" cy="507.7" r="1.75"/><circle cx="230.65" cy="507.7" r="1.75"/><circle cx="236.10" cy="507.7" r="1.75"/><circle cx="241.55" cy="507.7" r="1.75"/><circle cx="247.00" cy="507.7" r="1.75"/><circle cx="252.45" cy="507.7" r="1.75"/><circle cx="257.90" cy="507.7" r="1.75"/><circle cx="263.35" cy="507.7" r="1.75"/><circle cx="268.80" cy="507.7" r="1.75"/><circle cx="274.25" cy="507.7" r="1.75"/><circle cx="279.70" cy="507.7" r="1.75"/><circle cx="285.15" cy="507.7" r="1.75"/><circle cx="290.60" cy="507.7" r="1.75"/><circle cx="296.05" cy="507.7" r="1.75"/><circle cx="301.50" cy="507.7" r="1.75"/><circle cx="306.95" cy="507.7" r="1.75"/><circle cx="312.40" cy="507.7" r="1.75"/><circle cx="317.85" cy="507.7" r="1.75"/><circle cx="323.30" cy="507.7" r="1.75"/><circle cx="328.75" cy="507.7" r="1.75"/><circle cx="334.20" cy="507.7" r="1.75"/><circle cx="339.65" cy="507.7" r="1.75"/><circle cx="345.10" cy="507.7" r="1.75"/><circle cx="350.55" cy="507.7" r="1.75"/><circle cx="356.00" cy="507.7" r="1.75"/><circle cx="361.45" cy="507.7" r="1.75"/><circle cx="366.90" cy="507.7" r="1.75"/></g><circle cx="188.3" cy="496.8" r="3.1" fill="#24414f"/><circle cx="188.3" cy="502.2" r="3.1" fill="#24414f"/><circle cx="188.3" cy="496.8" r="1.75" fill="#f4fcfc"/><circle cx="188.3" cy="502.2" r="1.75" fill="#f4fcfc"/><rect x="190" y="487.7" width="5.4" height="23.5" rx="2.7" fill="#24414f"/><rect x="191.5" y="489.2" width="2.4" height="5.5" rx="1.2" fill="#f4fcfc"/><rect x="191.5" y="496.7" width="2.4" height="5.5" rx="1.2" fill="#f4fcfc"/><rect x="191.5" y="504.2" width="2.4" height="5.5" rx="1.2" fill="#f4fcfc"/><circle cx="330" cy="481.0" r="3.1" fill="#24414f"/><circle cx="330" cy="486.2" r="3.1" fill="#24414f"/><circle cx="330" cy="512.8" r="3.1" fill="#24414f"/><circle cx="330" cy="518.0" r="3.1" fill="#24414f"/><rect x="332.2" y="476.2" width="5.2" height="19" fill="#24414f"/><rect x="332.2" y="504.2" width="5.2" height="19" fill="#24414f"/><rect x="336.4" y="476.2" width="1.8" height="12" fill="#253f4f"/><rect x="336.4" y="510.7" width="1.8" height="12" fill="#253f4f"/><rect x="338" y="477.2" width="40" height="11" fill="#2f8cc4" opacity="0.3"/><circle cx="330" cy="481.0" r="1.75" fill="#f4fcfc"/><circle cx="330" cy="486.2" r="1.75" fill="#f4fcfc"/><circle cx="330" cy="512.8" r="1.75" fill="#f4fcfc"/><circle cx="330" cy="518.0" r="1.75" fill="#f4fcfc"/><rect x="333.6" y="477.7" width="2.4" height="9.5" rx="1.2" fill="#f4fcfc"/><rect x="333.6" y="488.7" width="2.4" height="6.0" rx="1.2" fill="#f4fcfc"/><rect x="333.6" y="504.7" width="2.4" height="6.0" rx="1.2" fill="#f4fcfc"/><rect x="333.6" y="512.2" width="2.4" height="9.0" rx="1.2" fill="#f4fcfc"/></g><polyline points="95.5,475.7 78,504.7 108.5,522.7" fill="none" stroke="#253f4f" stroke-width="1" opacity="0.4"/><polyline points="351,475.7 370,487.7 347,522.7" fill="none" stroke="#253f4f" stroke-width="1.5"/><clipPath id="st3"><polygon points="95.5,530.2 351,530.2 370,542.2 347,577.2 108.5,577.2 78,559.2"/></clipPath><polygon points="100,524.7 344,524.7 351,530.7 96,530.7" fill="#def5f8"/><g clip-path="url(#st3)"><rect x="70" y="528.7" width="310" height="52" fill="#40b3ea"/><rect x="70" y="528.7" width="70" height="52" fill="url(#leftshade)"/><rect x="70" y="529.7" width="310" height="2.2" fill="#253f4f"/><rect x="70" y="575.5" width="310" height="2" fill="#253f4f"/><rect x="110" y="536.7" width="120" height="0.8" fill="#2f7fae" opacity="0.5"/><rect x="299.8" y="564.7" width="33.19999999999999" height="11" rx="5.5" fill="#f4fcfc"/><circle cx="307.8" cy="568.3" r="1.4" fill="#8fd3c8" opacity="0.8"/><circle cx="319.4" cy="570.8" r="1.7" fill="#8fd3c8" opacity="0.8"/><g fill="#24414f"><circle cx="83.50" cy="545.9000000000001" r="3.1"/><circle cx="88.95" cy="545.9000000000001" r="3.1"/><circle cx="94.40" cy="545.9000000000001" r="3.1"/><circle cx="99.85" cy="545.9000000000001" r="3.1"/><circle cx="105.30" cy="545.9000000000001" r="3.1"/><circle cx="110.75" cy="545.9000000000001" r="3.1"/><circle cx="116.20" cy="545.9000000000001" r="3.1"/><circle cx="121.65" cy="545.9000000000001" r="3.1"/><circle cx="127.10" cy="545.9000000000001" r="3.1"/><circle cx="132.55" cy="545.9000000000001" r="3.1"/><circle cx="138.00" cy="545.9000000000001" r="3.1"/><circle cx="143.45" cy="545.9000000000001" r="3.1"/><circle cx="148.90" cy="545.9000000000001" r="3.1"/><circle cx="154.35" cy="545.9000000000001" r="3.1"/><circle cx="159.80" cy="545.9000000000001" r="3.1"/><circle cx="165.25" cy="545.9000000000001" r="3.1"/><circle cx="170.70" cy="545.9000000000001" r="3.1"/><circle cx="176.15" cy="545.9000000000001" r="3.1"/><circle cx="181.60" cy="545.9000000000001" r="3.1"/><circle cx="187.05" cy="545.9000000000001" r="3.1"/><circle cx="192.50" cy="545.9000000000001" r="3.1"/><circle cx="197.95" cy="545.9000000000001" r="3.1"/><circle cx="203.40" cy="545.9000000000001" r="3.1"/><circle cx="208.85" cy="545.9000000000001" r="3.1"/><circle cx="214.30" cy="545.9000000000001" r="3.1"/><circle cx="219.75" cy="545.9000000000001" r="3.1"/><circle cx="225.20" cy="545.9000000000001" r="3.1"/><circle cx="230.65" cy="545.9000000000001" r="3.1"/><circle cx="236.10" cy="545.9000000000001" r="3.1"/><circle cx="241.55" cy="545.9000000000001" r="3.1"/><circle cx="247.00" cy="545.9000000000001" r="3.1"/><circle cx="252.45" cy="545.9000000000001" r="3.1"/><circle cx="257.90" cy="545.9000000000001" r="3.1"/><circle cx="263.35" cy="545.9000000000001" r="3.1"/><circle cx="268.80" cy="545.9000000000001" r="3.1"/><circle cx="274.25" cy="545.9000000000001" r="3.1"/><circle cx="279.70" cy="545.9000000000001" r="3.1"/><circle cx="285.15" cy="545.9000000000001" r="3.1"/><circle cx="290.60" cy="545.9000000000001" r="3.1"/><circle cx="296.05" cy="545.9000000000001" r="3.1"/><circle cx="301.50" cy="545.9000000000001" r="3.1"/><circle cx="306.95" cy="545.9000000000001" r="3.1"/><circle cx="312.40" cy="545.9000000000001" r="3.1"/><circle cx="317.85" cy="545.9000000000001" r="3.1"/><circle cx="323.30" cy="545.9000000000001" r="3.1"/><circle cx="328.75" cy="545.9000000000001" r="3.1"/><circle cx="334.20" cy="545.9000000000001" r="3.1"/><circle cx="339.65" cy="545.9000000000001" r="3.1"/><circle cx="345.10" cy="545.9000000000001" r="3.1"/><circle cx="350.55" cy="545.9000000000001" r="3.1"/><circle cx="356.00" cy="545.9000000000001" r="3.1"/><circle cx="361.45" cy="545.9000000000001" r="3.1"/><circle cx="366.90" cy="545.9000000000001" r="3.1"/></g><g fill="#f4fcfc"><circle cx="83.50" cy="545.9000000000001" r="1.75"/><circle cx="88.95" cy="545.9000000000001" r="1.75"/><circle cx="94.40" cy="545.9000000000001" r="1.75"/><circle cx="99.85" cy="545.9000000000001" r="1.75"/><circle cx="105.30" cy="545.9000000000001" r="1.75"/><circle cx="110.75" cy="545.9000000000001" r="1.75"/><circle cx="116.20" cy="545.9000000000001" r="1.75"/><circle cx="121.65" cy="545.9000000000001" r="1.75"/><circle cx="127.10" cy="545.9000000000001" r="1.75"/><circle cx="132.55" cy="545.9000000000001" r="1.75"/><circle cx="138.00" cy="545.9000000000001" r="1.75"/><circle cx="143.45" cy="545.9000000000001" r="1.75"/><circle cx="148.90" cy="545.9000000000001" r="1.75"/><circle cx="154.35" cy="545.9000000000001" r="1.75"/><circle cx="159.80" cy="545.9000000000001" r="1.75"/><circle cx="165.25" cy="545.9000000000001" r="1.75"/><circle cx="170.70" cy="545.9000000000001" r="1.75"/><circle cx="176.15" cy="545.9000000000001" r="1.75"/><circle cx="181.60" cy="545.9000000000001" r="1.75"/><circle cx="187.05" cy="545.9000000000001" r="1.75"/><circle cx="192.50" cy="545.9000000000001" r="1.75"/><circle cx="197.95" cy="545.9000000000001" r="1.75"/><circle cx="203.40" cy="545.9000000000001" r="1.75"/><circle cx="208.85" cy="545.9000000000001" r="1.75"/><circle cx="214.30" cy="545.9000000000001" r="1.75"/><circle cx="219.75" cy="545.9000000000001" r="1.75"/><circle cx="225.20" cy="545.9000000000001" r="1.75"/><circle cx="230.65" cy="545.9000000000001" r="1.75"/><circle cx="236.10" cy="545.9000000000001" r="1.75"/><circle cx="241.55" cy="545.9000000000001" r="1.75"/><circle cx="247.00" cy="545.9000000000001" r="1.75"/><circle cx="252.45" cy="545.9000000000001" r="1.75"/><circle cx="257.90" cy="545.9000000000001" r="1.75"/><circle cx="263.35" cy="545.9000000000001" r="1.75"/><circle cx="268.80" cy="545.9000000000001" r="1.75"/><circle cx="274.25" cy="545.9000000000001" r="1.75"/><circle cx="279.70" cy="545.9000000000001" r="1.75"/><circle cx="285.15" cy="545.9000000000001" r="1.75"/><circle cx="290.60" cy="545.9000000000001" r="1.75"/><circle cx="296.05" cy="545.9000000000001" r="1.75"/><circle cx="301.50" cy="545.9000000000001" r="1.75"/><circle cx="306.95" cy="545.9000000000001" r="1.75"/><circle cx="312.40" cy="545.9000000000001" r="1.75"/><circle cx="317.85" cy="545.9000000000001" r="1.75"/><circle cx="323.30" cy="545.9000000000001" r="1.75"/><circle cx="328.75" cy="545.9000000000001" r="1.75"/><circle cx="334.20" cy="545.9000000000001" r="1.75"/><circle cx="339.65" cy="545.9000000000001" r="1.75"/><circle cx="345.10" cy="545.9000000000001" r="1.75"/><circle cx="350.55" cy="545.9000000000001" r="1.75"/><circle cx="356.00" cy="545.9000000000001" r="1.75"/><circle cx="361.45" cy="545.9000000000001" r="1.75"/><circle cx="366.90" cy="545.9000000000001" r="1.75"/></g><g fill="#24414f"><circle cx="83.50" cy="562.2" r="3.1"/><circle cx="88.95" cy="562.2" r="3.1"/><circle cx="94.40" cy="562.2" r="3.1"/><circle cx="99.85" cy="562.2" r="3.1"/><circle cx="105.30" cy="562.2" r="3.1"/><circle cx="110.75" cy="562.2" r="3.1"/><circle cx="116.20" cy="562.2" r="3.1"/><circle cx="121.65" cy="562.2" r="3.1"/><circle cx="127.10" cy="562.2" r="3.1"/><circle cx="132.55" cy="562.2" r="3.1"/><circle cx="138.00" cy="562.2" r="3.1"/><circle cx="143.45" cy="562.2" r="3.1"/><circle cx="148.90" cy="562.2" r="3.1"/><circle cx="154.35" cy="562.2" r="3.1"/><circle cx="159.80" cy="562.2" r="3.1"/><circle cx="165.25" cy="562.2" r="3.1"/><circle cx="170.70" cy="562.2" r="3.1"/><circle cx="176.15" cy="562.2" r="3.1"/><circle cx="181.60" cy="562.2" r="3.1"/><circle cx="187.05" cy="562.2" r="3.1"/><circle cx="192.50" cy="562.2" r="3.1"/><circle cx="197.95" cy="562.2" r="3.1"/><circle cx="203.40" cy="562.2" r="3.1"/><circle cx="208.85" cy="562.2" r="3.1"/><circle cx="214.30" cy="562.2" r="3.1"/><circle cx="219.75" cy="562.2" r="3.1"/><circle cx="225.20" cy="562.2" r="3.1"/><circle cx="230.65" cy="562.2" r="3.1"/><circle cx="236.10" cy="562.2" r="3.1"/><circle cx="241.55" cy="562.2" r="3.1"/><circle cx="247.00" cy="562.2" r="3.1"/><circle cx="252.45" cy="562.2" r="3.1"/><circle cx="257.90" cy="562.2" r="3.1"/><circle cx="263.35" cy="562.2" r="3.1"/><circle cx="268.80" cy="562.2" r="3.1"/><circle cx="274.25" cy="562.2" r="3.1"/><circle cx="279.70" cy="562.2" r="3.1"/><circle cx="285.15" cy="562.2" r="3.1"/><circle cx="290.60" cy="562.2" r="3.1"/><circle cx="296.05" cy="562.2" r="3.1"/><circle cx="301.50" cy="562.2" r="3.1"/><circle cx="306.95" cy="562.2" r="3.1"/><circle cx="312.40" cy="562.2" r="3.1"/><circle cx="317.85" cy="562.2" r="3.1"/><circle cx="323.30" cy="562.2" r="3.1"/><circle cx="328.75" cy="562.2" r="3.1"/><circle cx="334.20" cy="562.2" r="3.1"/><circle cx="339.65" cy="562.2" r="3.1"/><circle cx="345.10" cy="562.2" r="3.1"/><circle cx="350.55" cy="562.2" r="3.1"/><circle cx="356.00" cy="562.2" r="3.1"/><circle cx="361.45" cy="562.2" r="3.1"/><circle cx="366.90" cy="562.2" r="3.1"/></g><g fill="#f4fcfc"><circle cx="83.50" cy="562.2" r="1.75"/><circle cx="88.95" cy="562.2" r="1.75"/><circle cx="94.40" cy="562.2" r="1.75"/><circle cx="99.85" cy="562.2" r="1.75"/><circle cx="105.30" cy="562.2" r="1.75"/><circle cx="110.75" cy="562.2" r="1.75"/><circle cx="116.20" cy="562.2" r="1.75"/><circle cx="121.65" cy="562.2" r="1.75"/><circle cx="127.10" cy="562.2" r="1.75"/><circle cx="132.55" cy="562.2" r="1.75"/><circle cx="138.00" cy="562.2" r="1.75"/><circle cx="143.45" cy="562.2" r="1.75"/><circle cx="148.90" cy="562.2" r="1.75"/><circle cx="154.35" cy="562.2" r="1.75"/><circle cx="159.80" cy="562.2" r="1.75"/><circle cx="165.25" cy="562.2" r="1.75"/><circle cx="170.70" cy="562.2" r="1.75"/><circle cx="176.15" cy="562.2" r="1.75"/><circle cx="181.60" cy="562.2" r="1.75"/><circle cx="187.05" cy="562.2" r="1.75"/><circle cx="192.50" cy="562.2" r="1.75"/><circle cx="197.95" cy="562.2" r="1.75"/><circle cx="203.40" cy="562.2" r="1.75"/><circle cx="208.85" cy="562.2" r="1.75"/><circle cx="214.30" cy="562.2" r="1.75"/><circle cx="219.75" cy="562.2" r="1.75"/><circle cx="225.20" cy="562.2" r="1.75"/><circle cx="230.65" cy="562.2" r="1.75"/><circle cx="236.10" cy="562.2" r="1.75"/><circle cx="241.55" cy="562.2" r="1.75"/><circle cx="247.00" cy="562.2" r="1.75"/><circle cx="252.45" cy="562.2" r="1.75"/><circle cx="257.90" cy="562.2" r="1.75"/><circle cx="263.35" cy="562.2" r="1.75"/><circle cx="268.80" cy="562.2" r="1.75"/><circle cx="274.25" cy="562.2" r="1.75"/><circle cx="279.70" cy="562.2" r="1.75"/><circle cx="285.15" cy="562.2" r="1.75"/><circle cx="290.60" cy="562.2" r="1.75"/><circle cx="296.05" cy="562.2" r="1.75"/><circle cx="301.50" cy="562.2" r="1.75"/><circle cx="306.95" cy="562.2" r="1.75"/><circle cx="312.40" cy="562.2" r="1.75"/><circle cx="317.85" cy="562.2" r="1.75"/><circle cx="323.30" cy="562.2" r="1.75"/><circle cx="328.75" cy="562.2" r="1.75"/><circle cx="334.20" cy="562.2" r="1.75"/><circle cx="339.65" cy="562.2" r="1.75"/><circle cx="345.10" cy="562.2" r="1.75"/><circle cx="350.55" cy="562.2" r="1.75"/><circle cx="356.00" cy="562.2" r="1.75"/><circle cx="361.45" cy="562.2" r="1.75"/><circle cx="366.90" cy="562.2" r="1.75"/></g><circle cx="188.3" cy="551.3000000000001" r="3.1" fill="#24414f"/><circle cx="188.3" cy="556.7" r="3.1" fill="#24414f"/><circle cx="188.3" cy="551.3000000000001" r="1.75" fill="#f4fcfc"/><circle cx="188.3" cy="556.7" r="1.75" fill="#f4fcfc"/><rect x="190" y="542.2" width="5.4" height="23.5" rx="2.7" fill="#24414f"/><rect x="191.5" y="543.7" width="2.4" height="5.5" rx="1.2" fill="#f4fcfc"/><rect x="191.5" y="551.2" width="2.4" height="5.5" rx="1.2" fill="#f4fcfc"/><rect x="191.5" y="558.7" width="2.4" height="5.5" rx="1.2" fill="#f4fcfc"/><circle cx="330" cy="535.5" r="3.1" fill="#24414f"/><circle cx="330" cy="540.7" r="3.1" fill="#24414f"/><circle cx="330" cy="567.3000000000001" r="3.1" fill="#24414f"/><circle cx="330" cy="572.5" r="3.1" fill="#24414f"/><rect x="332.2" y="530.7" width="5.2" height="19" fill="#24414f"/><rect x="332.2" y="558.7" width="5.2" height="19" fill="#24414f"/><rect x="336.4" y="530.7" width="1.8" height="12" fill="#253f4f"/><rect x="336.4" y="565.2" width="1.8" height="12" fill="#253f4f"/><rect x="338" y="531.7" width="40" height="11" fill="#2f8cc4" opacity="0.3"/><circle cx="330" cy="535.5" r="1.75" fill="#f4fcfc"/><circle cx="330" cy="540.7" r="1.75" fill="#f4fcfc"/><circle cx="330" cy="567.3000000000001" r="1.75" fill="#f4fcfc"/><circle cx="330" cy="572.5" r="1.75" fill="#f4fcfc"/><rect x="333.6" y="532.2" width="2.4" height="9.5" rx="1.2" fill="#f4fcfc"/><rect x="333.6" y="543.2" width="2.4" height="6.0" rx="1.2" fill="#f4fcfc"/><rect x="333.6" y="559.2" width="2.4" height="6.0" rx="1.2" fill="#f4fcfc"/><rect x="333.6" y="566.7" width="2.4" height="9.0" rx="1.2" fill="#f4fcfc"/></g><polyline points="95.5,530.2 78,559.2 108.5,577.2" fill="none" stroke="#253f4f" stroke-width="1" opacity="0.4"/><polyline points="351,530.2 370,542.2 347,577.2" fill="none" stroke="#253f4f" stroke-width="1.5"/><clipPath id="st4"><polygon points="95.5,585.9 351,585.9 370,597.9 347,632.9 108.5,632.9 78,614.9"/></clipPath><polygon points="100,580.4 344,580.4 351,586.4 96,586.4" fill="#def5f8"/><g clip-path="url(#st4)"><rect x="70" y="584.4" width="310" height="52" fill="#40b3ea"/><rect x="70" y="584.4" width="70" height="52" fill="url(#leftshade)"/><rect x="70" y="585.4" width="310" height="2.2" fill="#253f4f"/><rect x="70" y="631.1999999999999" width="310" height="2" fill="#253f4f"/><rect x="110" y="592.4" width="120" height="0.8" fill="#2f7fae" opacity="0.5"/><rect x="318.7" y="620.4" width="14.300000000000011" height="11" rx="5.5" fill="#f4fcfc"/><g fill="#24414f"><circle cx="83.50" cy="601.6" r="3.1"/><circle cx="88.95" cy="601.6" r="3.1"/><circle cx="94.40" cy="601.6" r="3.1"/><circle cx="99.85" cy="601.6" r="3.1"/><circle cx="105.30" cy="601.6" r="3.1"/><circle cx="110.75" cy="601.6" r="3.1"/><circle cx="116.20" cy="601.6" r="3.1"/><circle cx="121.65" cy="601.6" r="3.1"/><circle cx="127.10" cy="601.6" r="3.1"/><circle cx="132.55" cy="601.6" r="3.1"/><circle cx="138.00" cy="601.6" r="3.1"/><circle cx="143.45" cy="601.6" r="3.1"/><circle cx="148.90" cy="601.6" r="3.1"/><circle cx="154.35" cy="601.6" r="3.1"/><circle cx="159.80" cy="601.6" r="3.1"/><circle cx="165.25" cy="601.6" r="3.1"/><circle cx="170.70" cy="601.6" r="3.1"/><circle cx="176.15" cy="601.6" r="3.1"/><circle cx="181.60" cy="601.6" r="3.1"/><circle cx="187.05" cy="601.6" r="3.1"/><circle cx="192.50" cy="601.6" r="3.1"/><circle cx="197.95" cy="601.6" r="3.1"/><circle cx="203.40" cy="601.6" r="3.1"/><circle cx="208.85" cy="601.6" r="3.1"/><circle cx="214.30" cy="601.6" r="3.1"/><circle cx="219.75" cy="601.6" r="3.1"/><circle cx="225.20" cy="601.6" r="3.1"/><circle cx="230.65" cy="601.6" r="3.1"/><circle cx="236.10" cy="601.6" r="3.1"/><circle cx="241.55" cy="601.6" r="3.1"/><circle cx="247.00" cy="601.6" r="3.1"/><circle cx="252.45" cy="601.6" r="3.1"/><circle cx="257.90" cy="601.6" r="3.1"/><circle cx="263.35" cy="601.6" r="3.1"/><circle cx="268.80" cy="601.6" r="3.1"/><circle cx="274.25" cy="601.6" r="3.1"/><circle cx="279.70" cy="601.6" r="3.1"/><circle cx="285.15" cy="601.6" r="3.1"/><circle cx="290.60" cy="601.6" r="3.1"/><circle cx="296.05" cy="601.6" r="3.1"/><circle cx="301.50" cy="601.6" r="3.1"/><circle cx="306.95" cy="601.6" r="3.1"/><circle cx="312.40" cy="601.6" r="3.1"/><circle cx="317.85" cy="601.6" r="3.1"/><circle cx="323.30" cy="601.6" r="3.1"/><circle cx="328.75" cy="601.6" r="3.1"/><circle cx="334.20" cy="601.6" r="3.1"/><circle cx="339.65" cy="601.6" r="3.1"/><circle cx="345.10" cy="601.6" r="3.1"/><circle cx="350.55" cy="601.6" r="3.1"/><circle cx="356.00" cy="601.6" r="3.1"/><circle cx="361.45" cy="601.6" r="3.1"/><circle cx="366.90" cy="601.6" r="3.1"/></g><g fill="#f4fcfc"><circle cx="83.50" cy="601.6" r="1.75"/><circle cx="88.95" cy="601.6" r="1.75"/><circle cx="94.40" cy="601.6" r="1.75"/><circle cx="99.85" cy="601.6" r="1.75"/><circle cx="105.30" cy="601.6" r="1.75"/><circle cx="110.75" cy="601.6" r="1.75"/><circle cx="116.20" cy="601.6" r="1.75"/><circle cx="121.65" cy="601.6" r="1.75"/><circle cx="127.10" cy="601.6" r="1.75"/><circle cx="132.55" cy="601.6" r="1.75"/><circle cx="138.00" cy="601.6" r="1.75"/><circle cx="143.45" cy="601.6" r="1.75"/><circle cx="148.90" cy="601.6" r="1.75"/><circle cx="154.35" cy="601.6" r="1.75"/><circle cx="159.80" cy="601.6" r="1.75"/><circle cx="165.25" cy="601.6" r="1.75"/><circle cx="170.70" cy="601.6" r="1.75"/><circle cx="176.15" cy="601.6" r="1.75"/><circle cx="181.60" cy="601.6" r="1.75"/><circle cx="187.05" cy="601.6" r="1.75"/><circle cx="192.50" cy="601.6" r="1.75"/><circle cx="197.95" cy="601.6" r="1.75"/><circle cx="203.40" cy="601.6" r="1.75"/><circle cx="208.85" cy="601.6" r="1.75"/><circle cx="214.30" cy="601.6" r="1.75"/><circle cx="219.75" cy="601.6" r="1.75"/><circle cx="225.20" cy="601.6" r="1.75"/><circle cx="230.65" cy="601.6" r="1.75"/><circle cx="236.10" cy="601.6" r="1.75"/><circle cx="241.55" cy="601.6" r="1.75"/><circle cx="247.00" cy="601.6" r="1.75"/><circle cx="252.45" cy="601.6" r="1.75"/><circle cx="257.90" cy="601.6" r="1.75"/><circle cx="263.35" cy="601.6" r="1.75"/><circle cx="268.80" cy="601.6" r="1.75"/><circle cx="274.25" cy="601.6" r="1.75"/><circle cx="279.70" cy="601.6" r="1.75"/><circle cx="285.15" cy="601.6" r="1.75"/><circle cx="290.60" cy="601.6" r="1.75"/><circle cx="296.05" cy="601.6" r="1.75"/><circle cx="301.50" cy="601.6" r="1.75"/><circle cx="306.95" cy="601.6" r="1.75"/><circle cx="312.40" cy="601.6" r="1.75"/><circle cx="317.85" cy="601.6" r="1.75"/><circle cx="323.30" cy="601.6" r="1.75"/><circle cx="328.75" cy="601.6" r="1.75"/><circle cx="334.20" cy="601.6" r="1.75"/><circle cx="339.65" cy="601.6" r="1.75"/><circle cx="345.10" cy="601.6" r="1.75"/><circle cx="350.55" cy="601.6" r="1.75"/><circle cx="356.00" cy="601.6" r="1.75"/><circle cx="361.45" cy="601.6" r="1.75"/><circle cx="366.90" cy="601.6" r="1.75"/></g><g fill="#24414f"><circle cx="83.50" cy="617.9" r="3.1"/><circle cx="88.95" cy="617.9" r="3.1"/><circle cx="94.40" cy="617.9" r="3.1"/><circle cx="99.85" cy="617.9" r="3.1"/><circle cx="105.30" cy="617.9" r="3.1"/><circle cx="110.75" cy="617.9" r="3.1"/><circle cx="116.20" cy="617.9" r="3.1"/><circle cx="121.65" cy="617.9" r="3.1"/><circle cx="127.10" cy="617.9" r="3.1"/><circle cx="132.55" cy="617.9" r="3.1"/><circle cx="138.00" cy="617.9" r="3.1"/><circle cx="143.45" cy="617.9" r="3.1"/><circle cx="148.90" cy="617.9" r="3.1"/><circle cx="154.35" cy="617.9" r="3.1"/><circle cx="159.80" cy="617.9" r="3.1"/><circle cx="165.25" cy="617.9" r="3.1"/><circle cx="170.70" cy="617.9" r="3.1"/><circle cx="176.15" cy="617.9" r="3.1"/><circle cx="181.60" cy="617.9" r="3.1"/><circle cx="187.05" cy="617.9" r="3.1"/><circle cx="192.50" cy="617.9" r="3.1"/><circle cx="197.95" cy="617.9" r="3.1"/><circle cx="203.40" cy="617.9" r="3.1"/><circle cx="208.85" cy="617.9" r="3.1"/><circle cx="214.30" cy="617.9" r="3.1"/><circle cx="219.75" cy="617.9" r="3.1"/><circle cx="225.20" cy="617.9" r="3.1"/><circle cx="230.65" cy="617.9" r="3.1"/><circle cx="236.10" cy="617.9" r="3.1"/><circle cx="241.55" cy="617.9" r="3.1"/><circle cx="247.00" cy="617.9" r="3.1"/><circle cx="252.45" cy="617.9" r="3.1"/><circle cx="257.90" cy="617.9" r="3.1"/><circle cx="263.35" cy="617.9" r="3.1"/><circle cx="268.80" cy="617.9" r="3.1"/><circle cx="274.25" cy="617.9" r="3.1"/><circle cx="279.70" cy="617.9" r="3.1"/><circle cx="285.15" cy="617.9" r="3.1"/><circle cx="290.60" cy="617.9" r="3.1"/><circle cx="296.05" cy="617.9" r="3.1"/><circle cx="301.50" cy="617.9" r="3.1"/><circle cx="306.95" cy="617.9" r="3.1"/><circle cx="312.40" cy="617.9" r="3.1"/><circle cx="317.85" cy="617.9" r="3.1"/><circle cx="323.30" cy="617.9" r="3.1"/><circle cx="328.75" cy="617.9" r="3.1"/><circle cx="334.20" cy="617.9" r="3.1"/><circle cx="339.65" cy="617.9" r="3.1"/><circle cx="345.10" cy="617.9" r="3.1"/><circle cx="350.55" cy="617.9" r="3.1"/><circle cx="356.00" cy="617.9" r="3.1"/><circle cx="361.45" cy="617.9" r="3.1"/><circle cx="366.90" cy="617.9" r="3.1"/></g><g fill="#f4fcfc"><circle cx="83.50" cy="617.9" r="1.75"/><circle cx="88.95" cy="617.9" r="1.75"/><circle cx="94.40" cy="617.9" r="1.75"/><circle cx="99.85" cy="617.9" r="1.75"/><circle cx="105.30" cy="617.9" r="1.75"/><circle cx="110.75" cy="617.9" r="1.75"/><circle cx="116.20" cy="617.9" r="1.75"/><circle cx="121.65" cy="617.9" r="1.75"/><circle cx="127.10" cy="617.9" r="1.75"/><circle cx="132.55" cy="617.9" r="1.75"/><circle cx="138.00" cy="617.9" r="1.75"/><circle cx="143.45" cy="617.9" r="1.75"/><circle cx="148.90" cy="617.9" r="1.75"/><circle cx="154.35" cy="617.9" r="1.75"/><circle cx="159.80" cy="617.9" r="1.75"/><circle cx="165.25" cy="617.9" r="1.75"/><circle cx="170.70" cy="617.9" r="1.75"/><circle cx="176.15" cy="617.9" r="1.75"/><circle cx="181.60" cy="617.9" r="1.75"/><circle cx="187.05" cy="617.9" r="1.75"/><circle cx="192.50" cy="617.9" r="1.75"/><circle cx="197.95" cy="617.9" r="1.75"/><circle cx="203.40" cy="617.9" r="1.75"/><circle cx="208.85" cy="617.9" r="1.75"/><circle cx="214.30" cy="617.9" r="1.75"/><circle cx="219.75" cy="617.9" r="1.75"/><circle cx="225.20" cy="617.9" r="1.75"/><circle cx="230.65" cy="617.9" r="1.75"/><circle cx="236.10" cy="617.9" r="1.75"/><circle cx="241.55" cy="617.9" r="1.75"/><circle cx="247.00" cy="617.9" r="1.75"/><circle cx="252.45" cy="617.9" r="1.75"/><circle cx="257.90" cy="617.9" r="1.75"/><circle cx="263.35" cy="617.9" r="1.75"/><circle cx="268.80" cy="617.9" r="1.75"/><circle cx="274.25" cy="617.9" r="1.75"/><circle cx="279.70" cy="617.9" r="1.75"/><circle cx="285.15" cy="617.9" r="1.75"/><circle cx="290.60" cy="617.9" r="1.75"/><circle cx="296.05" cy="617.9" r="1.75"/><circle cx="301.50" cy="617.9" r="1.75"/><circle cx="306.95" cy="617.9" r="1.75"/><circle cx="312.40" cy="617.9" r="1.75"/><circle cx="317.85" cy="617.9" r="1.75"/><circle cx="323.30" cy="617.9" r="1.75"/><circle cx="328.75" cy="617.9" r="1.75"/><circle cx="334.20" cy="617.9" r="1.75"/><circle cx="339.65" cy="617.9" r="1.75"/><circle cx="345.10" cy="617.9" r="1.75"/><circle cx="350.55" cy="617.9" r="1.75"/><circle cx="356.00" cy="617.9" r="1.75"/><circle cx="361.45" cy="617.9" r="1.75"/><circle cx="366.90" cy="617.9" r="1.75"/></g><circle cx="188.3" cy="607.0" r="3.1" fill="#24414f"/><circle cx="188.3" cy="612.4" r="3.1" fill="#24414f"/><circle cx="188.3" cy="607.0" r="1.75" fill="#f4fcfc"/><circle cx="188.3" cy="612.4" r="1.75" fill="#f4fcfc"/><rect x="190" y="597.9" width="5.4" height="23.5" rx="2.7" fill="#24414f"/><rect x="191.5" y="599.4" width="2.4" height="5.5" rx="1.2" fill="#f4fcfc"/><rect x="191.5" y="606.9" width="2.4" height="5.5" rx="1.2" fill="#f4fcfc"/><rect x="191.5" y="614.4" width="2.4" height="5.5" rx="1.2" fill="#f4fcfc"/><circle cx="330" cy="591.1999999999999" r="3.1" fill="#24414f"/><circle cx="330" cy="596.4" r="3.1" fill="#24414f"/><circle cx="330" cy="623.0" r="3.1" fill="#24414f"/><circle cx="330" cy="628.1999999999999" r="3.1" fill="#24414f"/><rect x="332.2" y="586.4" width="5.2" height="19" fill="#24414f"/><rect x="332.2" y="614.4" width="5.2" height="19" fill="#24414f"/><rect x="336.4" y="586.4" width="1.8" height="12" fill="#253f4f"/><rect x="336.4" y="620.9" width="1.8" height="12" fill="#253f4f"/><rect x="338" y="587.4" width="40" height="11" fill="#2f8cc4" opacity="0.3"/><circle cx="330" cy="591.1999999999999" r="1.75" fill="#f4fcfc"/><circle cx="330" cy="596.4" r="1.75" fill="#f4fcfc"/><circle cx="330" cy="623.0" r="1.75" fill="#f4fcfc"/><circle cx="330" cy="628.1999999999999" r="1.75" fill="#f4fcfc"/><rect x="333.6" y="587.9" width="2.4" height="9.5" rx="1.2" fill="#f4fcfc"/><rect x="333.6" y="598.9" width="2.4" height="6.0" rx="1.2" fill="#f4fcfc"/><rect x="333.6" y="614.9" width="2.4" height="6.0" rx="1.2" fill="#f4fcfc"/><rect x="333.6" y="622.4" width="2.4" height="9.0" rx="1.2" fill="#f4fcfc"/></g><polyline points="95.5,585.9 78,614.9 108.5,632.9" fill="none" stroke="#253f4f" stroke-width="1" opacity="0.4"/><polyline points="351,585.9 370,597.9 347,632.9" fill="none" stroke="#253f4f" stroke-width="1.5"/><clipPath id="st5"><polygon points="95.5,645.7 351,645.7 370,657.7 347,692.7 108.5,692.7 78,674.7"/></clipPath><polygon points="100,640.2 344,640.2 351,646.2 96,646.2" fill="#def5f8"/><g clip-path="url(#st5)"><rect x="70" y="644.2" width="310" height="52" fill="#40b3ea"/><rect x="70" y="644.2" width="70" height="52" fill="url(#leftshade)"/><rect x="70" y="645.2" width="310" height="2.2" fill="#253f4f"/><rect x="70" y="691.0" width="310" height="2" fill="#253f4f"/><rect x="110" y="652.2" width="120" height="0.8" fill="#2f7fae" opacity="0.5"/><g fill="#24414f"><circle cx="83.50" cy="661.4000000000001" r="3.1"/><circle cx="88.95" cy="661.4000000000001" r="3.1"/><circle cx="94.40" cy="661.4000000000001" r="3.1"/><circle cx="99.85" cy="661.4000000000001" r="3.1"/><circle cx="105.30" cy="661.4000000000001" r="3.1"/><circle cx="110.75" cy="661.4000000000001" r="3.1"/><circle cx="116.20" cy="661.4000000000001" r="3.1"/><circle cx="121.65" cy="661.4000000000001" r="3.1"/><circle cx="127.10" cy="661.4000000000001" r="3.1"/><circle cx="132.55" cy="661.4000000000001" r="3.1"/><circle cx="138.00" cy="661.4000000000001" r="3.1"/><circle cx="143.45" cy="661.4000000000001" r="3.1"/><circle cx="148.90" cy="661.4000000000001" r="3.1"/><circle cx="154.35" cy="661.4000000000001" r="3.1"/><circle cx="159.80" cy="661.4000000000001" r="3.1"/><circle cx="165.25" cy="661.4000000000001" r="3.1"/><circle cx="170.70" cy="661.4000000000001" r="3.1"/><circle cx="176.15" cy="661.4000000000001" r="3.1"/><circle cx="181.60" cy="661.4000000000001" r="3.1"/><circle cx="187.05" cy="661.4000000000001" r="3.1"/><circle cx="192.50" cy="661.4000000000001" r="3.1"/><circle cx="197.95" cy="661.4000000000001" r="3.1"/><circle cx="203.40" cy="661.4000000000001" r="3.1"/><circle cx="208.85" cy="661.4000000000001" r="3.1"/><circle cx="214.30" cy="661.4000000000001" r="3.1"/><circle cx="219.75" cy="661.4000000000001" r="3.1"/><circle cx="225.20" cy="661.4000000000001" r="3.1"/><circle cx="230.65" cy="661.4000000000001" r="3.1"/><circle cx="236.10" cy="661.4000000000001" r="3.1"/><circle cx="241.55" cy="661.4000000000001" r="3.1"/><circle cx="247.00" cy="661.4000000000001" r="3.1"/><circle cx="252.45" cy="661.4000000000001" r="3.1"/><circle cx="257.90" cy="661.4000000000001" r="3.1"/><circle cx="263.35" cy="661.4000000000001" r="3.1"/><circle cx="268.80" cy="661.4000000000001" r="3.1"/><circle cx="274.25" cy="661.4000000000001" r="3.1"/><circle cx="279.70" cy="661.4000000000001" r="3.1"/><circle cx="285.15" cy="661.4000000000001" r="3.1"/><circle cx="290.60" cy="661.4000000000001" r="3.1"/><circle cx="296.05" cy="661.4000000000001" r="3.1"/><circle cx="301.50" cy="661.4000000000001" r="3.1"/><circle cx="306.95" cy="661.4000000000001" r="3.1"/><circle cx="312.40" cy="661.4000000000001" r="3.1"/><circle cx="317.85" cy="661.4000000000001" r="3.1"/><circle cx="323.30" cy="661.4000000000001" r="3.1"/><circle cx="328.75" cy="661.4000000000001" r="3.1"/><circle cx="334.20" cy="661.4000000000001" r="3.1"/><circle cx="339.65" cy="661.4000000000001" r="3.1"/><circle cx="345.10" cy="661.4000000000001" r="3.1"/><circle cx="350.55" cy="661.4000000000001" r="3.1"/><circle cx="356.00" cy="661.4000000000001" r="3.1"/><circle cx="361.45" cy="661.4000000000001" r="3.1"/><circle cx="366.90" cy="661.4000000000001" r="3.1"/></g><g fill="#f4fcfc"><circle cx="83.50" cy="661.4000000000001" r="1.75"/><circle cx="88.95" cy="661.4000000000001" r="1.75"/><circle cx="94.40" cy="661.4000000000001" r="1.75"/><circle cx="99.85" cy="661.4000000000001" r="1.75"/><circle cx="105.30" cy="661.4000000000001" r="1.75"/><circle cx="110.75" cy="661.4000000000001" r="1.75"/><circle cx="116.20" cy="661.4000000000001" r="1.75"/><circle cx="121.65" cy="661.4000000000001" r="1.75"/><circle cx="127.10" cy="661.4000000000001" r="1.75"/><circle cx="132.55" cy="661.4000000000001" r="1.75"/><circle cx="138.00" cy="661.4000000000001" r="1.75"/><circle cx="143.45" cy="661.4000000000001" r="1.75"/><circle cx="148.90" cy="661.4000000000001" r="1.75"/><circle cx="154.35" cy="661.4000000000001" r="1.75"/><circle cx="159.80" cy="661.4000000000001" r="1.75"/><circle cx="165.25" cy="661.4000000000001" r="1.75"/><circle cx="170.70" cy="661.4000000000001" r="1.75"/><circle cx="176.15" cy="661.4000000000001" r="1.75"/><circle cx="181.60" cy="661.4000000000001" r="1.75"/><circle cx="187.05" cy="661.4000000000001" r="1.75"/><circle cx="192.50" cy="661.4000000000001" r="1.75"/><circle cx="197.95" cy="661.4000000000001" r="1.75"/><circle cx="203.40" cy="661.4000000000001" r="1.75"/><circle cx="208.85" cy="661.4000000000001" r="1.75"/><circle cx="214.30" cy="661.4000000000001" r="1.75"/><circle cx="219.75" cy="661.4000000000001" r="1.75"/><circle cx="225.20" cy="661.4000000000001" r="1.75"/><circle cx="230.65" cy="661.4000000000001" r="1.75"/><circle cx="236.10" cy="661.4000000000001" r="1.75"/><circle cx="241.55" cy="661.4000000000001" r="1.75"/><circle cx="247.00" cy="661.4000000000001" r="1.75"/><circle cx="252.45" cy="661.4000000000001" r="1.75"/><circle cx="257.90" cy="661.4000000000001" r="1.75"/><circle cx="263.35" cy="661.4000000000001" r="1.75"/><circle cx="268.80" cy="661.4000000000001" r="1.75"/><circle cx="274.25" cy="661.4000000000001" r="1.75"/><circle cx="279.70" cy="661.4000000000001" r="1.75"/><circle cx="285.15" cy="661.4000000000001" r="1.75"/><circle cx="290.60" cy="661.4000000000001" r="1.75"/><circle cx="296.05" cy="661.4000000000001" r="1.75"/><circle cx="301.50" cy="661.4000000000001" r="1.75"/><circle cx="306.95" cy="661.4000000000001" r="1.75"/><circle cx="312.40" cy="661.4000000000001" r="1.75"/><circle cx="317.85" cy="661.4000000000001" r="1.75"/><circle cx="323.30" cy="661.4000000000001" r="1.75"/><circle cx="328.75" cy="661.4000000000001" r="1.75"/><circle cx="334.20" cy="661.4000000000001" r="1.75"/><circle cx="339.65" cy="661.4000000000001" r="1.75"/><circle cx="345.10" cy="661.4000000000001" r="1.75"/><circle cx="350.55" cy="661.4000000000001" r="1.75"/><circle cx="356.00" cy="661.4000000000001" r="1.75"/><circle cx="361.45" cy="661.4000000000001" r="1.75"/><circle cx="366.90" cy="661.4000000000001" r="1.75"/></g><g fill="#24414f"><circle cx="83.50" cy="677.7" r="3.1"/><circle cx="88.95" cy="677.7" r="3.1"/><circle cx="94.40" cy="677.7" r="3.1"/><circle cx="99.85" cy="677.7" r="3.1"/><circle cx="105.30" cy="677.7" r="3.1"/><circle cx="110.75" cy="677.7" r="3.1"/><circle cx="116.20" cy="677.7" r="3.1"/><circle cx="121.65" cy="677.7" r="3.1"/><circle cx="127.10" cy="677.7" r="3.1"/><circle cx="132.55" cy="677.7" r="3.1"/><circle cx="138.00" cy="677.7" r="3.1"/><circle cx="143.45" cy="677.7" r="3.1"/><circle cx="148.90" cy="677.7" r="3.1"/><circle cx="154.35" cy="677.7" r="3.1"/><circle cx="159.80" cy="677.7" r="3.1"/><circle cx="165.25" cy="677.7" r="3.1"/><circle cx="170.70" cy="677.7" r="3.1"/><circle cx="176.15" cy="677.7" r="3.1"/><circle cx="181.60" cy="677.7" r="3.1"/><circle cx="187.05" cy="677.7" r="3.1"/><circle cx="192.50" cy="677.7" r="3.1"/><circle cx="197.95" cy="677.7" r="3.1"/><circle cx="203.40" cy="677.7" r="3.1"/><circle cx="208.85" cy="677.7" r="3.1"/><circle cx="214.30" cy="677.7" r="3.1"/><circle cx="219.75" cy="677.7" r="3.1"/><circle cx="225.20" cy="677.7" r="3.1"/><circle cx="230.65" cy="677.7" r="3.1"/><circle cx="236.10" cy="677.7" r="3.1"/><circle cx="241.55" cy="677.7" r="3.1"/><circle cx="247.00" cy="677.7" r="3.1"/><circle cx="252.45" cy="677.7" r="3.1"/><circle cx="257.90" cy="677.7" r="3.1"/><circle cx="263.35" cy="677.7" r="3.1"/><circle cx="268.80" cy="677.7" r="3.1"/><circle cx="274.25" cy="677.7" r="3.1"/><circle cx="279.70" cy="677.7" r="3.1"/><circle cx="285.15" cy="677.7" r="3.1"/><circle cx="290.60" cy="677.7" r="3.1"/><circle cx="296.05" cy="677.7" r="3.1"/><circle cx="301.50" cy="677.7" r="3.1"/><circle cx="306.95" cy="677.7" r="3.1"/><circle cx="312.40" cy="677.7" r="3.1"/><circle cx="317.85" cy="677.7" r="3.1"/><circle cx="323.30" cy="677.7" r="3.1"/><circle cx="328.75" cy="677.7" r="3.1"/><circle cx="334.20" cy="677.7" r="3.1"/><circle cx="339.65" cy="677.7" r="3.1"/><circle cx="345.10" cy="677.7" r="3.1"/><circle cx="350.55" cy="677.7" r="3.1"/><circle cx="356.00" cy="677.7" r="3.1"/><circle cx="361.45" cy="677.7" r="3.1"/><circle cx="366.90" cy="677.7" r="3.1"/></g><g fill="#f4fcfc"><circle cx="83.50" cy="677.7" r="1.75"/><circle cx="88.95" cy="677.7" r="1.75"/><circle cx="94.40" cy="677.7" r="1.75"/><circle cx="99.85" cy="677.7" r="1.75"/><circle cx="105.30" cy="677.7" r="1.75"/><circle cx="110.75" cy="677.7" r="1.75"/><circle cx="116.20" cy="677.7" r="1.75"/><circle cx="121.65" cy="677.7" r="1.75"/><circle cx="127.10" cy="677.7" r="1.75"/><circle cx="132.55" cy="677.7" r="1.75"/><circle cx="138.00" cy="677.7" r="1.75"/><circle cx="143.45" cy="677.7" r="1.75"/><circle cx="148.90" cy="677.7" r="1.75"/><circle cx="154.35" cy="677.7" r="1.75"/><circle cx="159.80" cy="677.7" r="1.75"/><circle cx="165.25" cy="677.7" r="1.75"/><circle cx="170.70" cy="677.7" r="1.75"/><circle cx="176.15" cy="677.7" r="1.75"/><circle cx="181.60" cy="677.7" r="1.75"/><circle cx="187.05" cy="677.7" r="1.75"/><circle cx="192.50" cy="677.7" r="1.75"/><circle cx="197.95" cy="677.7" r="1.75"/><circle cx="203.40" cy="677.7" r="1.75"/><circle cx="208.85" cy="677.7" r="1.75"/><circle cx="214.30" cy="677.7" r="1.75"/><circle cx="219.75" cy="677.7" r="1.75"/><circle cx="225.20" cy="677.7" r="1.75"/><circle cx="230.65" cy="677.7" r="1.75"/><circle cx="236.10" cy="677.7" r="1.75"/><circle cx="241.55" cy="677.7" r="1.75"/><circle cx="247.00" cy="677.7" r="1.75"/><circle cx="252.45" cy="677.7" r="1.75"/><circle cx="257.90" cy="677.7" r="1.75"/><circle cx="263.35" cy="677.7" r="1.75"/><circle cx="268.80" cy="677.7" r="1.75"/><circle cx="274.25" cy="677.7" r="1.75"/><circle cx="279.70" cy="677.7" r="1.75"/><circle cx="285.15" cy="677.7" r="1.75"/><circle cx="290.60" cy="677.7" r="1.75"/><circle cx="296.05" cy="677.7" r="1.75"/><circle cx="301.50" cy="677.7" r="1.75"/><circle cx="306.95" cy="677.7" r="1.75"/><circle cx="312.40" cy="677.7" r="1.75"/><circle cx="317.85" cy="677.7" r="1.75"/><circle cx="323.30" cy="677.7" r="1.75"/><circle cx="328.75" cy="677.7" r="1.75"/><circle cx="334.20" cy="677.7" r="1.75"/><circle cx="339.65" cy="677.7" r="1.75"/><circle cx="345.10" cy="677.7" r="1.75"/><circle cx="350.55" cy="677.7" r="1.75"/><circle cx="356.00" cy="677.7" r="1.75"/><circle cx="361.45" cy="677.7" r="1.75"/><circle cx="366.90" cy="677.7" r="1.75"/></g><circle cx="188.3" cy="666.8000000000001" r="3.1" fill="#24414f"/><circle cx="188.3" cy="672.2" r="3.1" fill="#24414f"/><circle cx="188.3" cy="666.8000000000001" r="1.75" fill="#f4fcfc"/><circle cx="188.3" cy="672.2" r="1.75" fill="#f4fcfc"/><rect x="190" y="657.7" width="5.4" height="23.5" rx="2.7" fill="#24414f"/><rect x="191.5" y="659.2" width="2.4" height="5.5" rx="1.2" fill="#f4fcfc"/><rect x="191.5" y="666.7" width="2.4" height="5.5" rx="1.2" fill="#f4fcfc"/><rect x="191.5" y="674.2" width="2.4" height="5.5" rx="1.2" fill="#f4fcfc"/><circle cx="330" cy="651.0" r="3.1" fill="#24414f"/><circle cx="330" cy="656.2" r="3.1" fill="#24414f"/><circle cx="330" cy="682.8000000000001" r="3.1" fill="#24414f"/><circle cx="330" cy="688.0" r="3.1" fill="#24414f"/><rect x="332.2" y="646.2" width="5.2" height="19" fill="#24414f"/><rect x="332.2" y="674.2" width="5.2" height="19" fill="#24414f"/><rect x="336.4" y="646.2" width="1.8" height="12" fill="#253f4f"/><rect x="336.4" y="680.7" width="1.8" height="12" fill="#253f4f"/><rect x="338" y="647.2" width="40" height="11" fill="#2f8cc4" opacity="0.3"/><circle cx="330" cy="651.0" r="1.75" fill="#f4fcfc"/><circle cx="330" cy="656.2" r="1.75" fill="#f4fcfc"/><circle cx="330" cy="682.8000000000001" r="1.75" fill="#f4fcfc"/><circle cx="330" cy="688.0" r="1.75" fill="#f4fcfc"/><rect x="333.6" y="647.7" width="2.4" height="9.5" rx="1.2" fill="#f4fcfc"/><rect x="333.6" y="658.7" width="2.4" height="6.0" rx="1.2" fill="#f4fcfc"/><rect x="333.6" y="674.7" width="2.4" height="6.0" rx="1.2" fill="#f4fcfc"/><rect x="333.6" y="682.2" width="2.4" height="9.0" rx="1.2" fill="#f4fcfc"/></g><polyline points="95.5,645.7 78,674.7 108.5,692.7" fill="none" stroke="#253f4f" stroke-width="1" opacity="0.4"/><polyline points="351,645.7 370,657.7 347,692.7" fill="none" stroke="#253f4f" stroke-width="1.5"/><rect x="100" y="693" width="245" height="7" fill="url(#halob)"/><text x="58.5" y="400.5" text-anchor="end" font-family='"Liberation Sans", sans-serif' font-weight="bold" font-size="25" fill="#000">0 s</text><text x="73" y="455.3" text-anchor="end" font-family='"Liberation Sans", sans-serif' font-weight="bold" font-size="25" fill="#000">120 s</text><text x="77.2" y="511.1" text-anchor="end" font-family='"Liberation Sans", sans-serif' font-weight="bold" font-size="25" fill="#000">240 s</text><text x="76.9" y="566.8" text-anchor="end" font-family='"Liberation Sans", sans-serif' font-weight="bold" font-size="25" fill="#000">360 s</text><text x="75.8" y="622.8" text-anchor="end" font-family='"Liberation Sans", sans-serif' font-weight="bold" font-size="25" fill="#000">480 s</text><text x="75.8" y="678.9" text-anchor="end" font-family='"Liberation Sans", sans-serif' font-weight="bold" font-size="25" fill="#000">592 s</text><rect x="297" y="683" width="27" height="5" fill="#000"/><text x="316" y="705.7" text-anchor="middle" font-family='"Liberation Sans", sans-serif' font-size="19.5" letter-spacing="0.7" fill="#000">200 µm</text>
<text x="440.8" y="36.6" font-family='"Liberation Sans", sans-serif' font-weight="bold" font-size="43" fill="#000">c</text><rect x="567.1" y="26.7" width="791.3" height="588.6" fill="none" stroke="#000" stroke-width="2.7"/><line x1="554.5" y1="566.3" x2="567.1" y2="566.3" stroke="#000" stroke-width="2.5"/><text x="543.3" y="576.4" text-anchor="end" font-family='"Liberation Sans", sans-serif' font-size="29.5" fill="#000">0.0</text><line x1="554.5" y1="468.1" x2="567.1" y2="468.1" stroke="#000" stroke-width="2.5"/><text x="543.3" y="478.2" text-anchor="end" font-family='"Liberation Sans", sans-serif' font-size="29.5" fill="#000">0.2</text><line x1="554.5" y1="369.9" x2="567.1" y2="369.9" stroke="#000" stroke-width="2.5"/><text x="543.3" y="380.0" text-anchor="end" font-family='"Liberation Sans", sans-serif' font-size="29.5" fill="#000">0.4</text><line x1="554.5" y1="271.6" x2="567.1" y2="271.6" stroke="#000" stroke-width="2.5"/><text x="543.3" y="281.7" text-anchor="end" font-family='"Liberation Sans", sans-serif' font-size="29.5" fill="#000">0.6</text><line x1="554.5" y1="173.4" x2="567.1" y2="173.4" stroke="#000" stroke-width="2.5"/><text x="543.3" y="183.5" text-anchor="end" font-family='"Liberation Sans", sans-serif' font-size="29.5" fill="#000">0.8</text><line x1="554.5" y1="75.2" x2="567.1" y2="75.2" stroke="#000" stroke-width="2.5"/><text x="543.3" y="85.3" text-anchor="end" font-family='"Liberation Sans", sans-serif' font-size="29.5" fill="#000">1.0</text><line x1="645.9" y1="615.3" x2="645.9" y2="628" stroke="#000" stroke-width="2.5"/><text x="645.4" y="659.9" text-anchor="middle" font-family='"Liberation Sans", sans-serif' font-size="29.5" fill="#000">1</text><line x1="804.1" y1="615.3" x2="804.1" y2="628" stroke="#000" stroke-width="2.5"/><text x="803.6" y="659.9" text-anchor="middle" font-family='"Liberation Sans", sans-serif' font-size="29.5" fill="#000">2</text><line x1="962.4" y1="615.3" x2="962.4" y2="628" stroke="#000" stroke-width="2.5"/><text x="961.9" y="659.9" text-anchor="middle" font-family='"Liberation Sans", sans-serif' font-size="29.5" fill="#000">3</text><line x1="1120.7" y1="615.3" x2="1120.7" y2="628" stroke="#000" stroke-width="2.5"/><text x="1120.2" y="659.9" text-anchor="middle" font-family='"Liberation Sans", sans-serif' font-size="29.5" fill="#000">4</text><line x1="1278.9" y1="615.3" x2="1278.9" y2="628" stroke="#000" stroke-width="2.5"/><text x="1278.4" y="659.9" text-anchor="middle" font-family='"Liberation Sans", sans-serif' font-size="29.5" fill="#000">5</text><text x="956.4" y="706.7" text-anchor="middle" font-family='"Liberation Sans", sans-serif' font-size="29.2" fill="#000">Sample</text><text transform="translate(466.5,326.2) rotate(-90)" x="0" y="0" text-anchor="middle" font-family='"Liberation Sans", sans-serif' font-size="29" fill="#000">Concentration (%)</text><rect x="578.2" y="409.4" width="106.4" height="105.7" fill="#000"/><rect x="722" y="302.5" width="106.5" height="101.7" fill="#000"/><circle cx="772" cy="349" r="46.5" fill="url(#g4)"/><rect x="882" y="184" width="105" height="103.5" fill="#000"/><rect x="924.2" y="184" width="20" height="54.19999999999999" fill="url(#g3)"/><rect x="924.2" y="238.2" width="20" height="49.30000000000001" fill="url(#g3)"/><circle cx="934.2" cy="238.2" r="48.4" fill="url(#g3)"/><rect x="1039" y="42.8" width="110.4" height="104.6" fill="#000"/><rect x="1084.2" y="42.8" width="20" height="50.2" fill="url(#g1)"/><rect x="1084.2" y="93" width="20" height="54.39999999999998" fill="url(#g1)"/><circle cx="1094.2" cy="93" r="49" fill="url(#g1)"/><rect x="1238" y="121.5" width="110.5" height="103.5" fill="#000"/><rect x="1282.5" y="121.5" width="20" height="49.80000000000001" fill="url(#g2)"/><rect x="1282.5" y="171.3" width="20" height="53.69999999999999" fill="url(#g2)"/><circle cx="1292.5" cy="171.3" r="49" fill="url(#g2)"/><clipPath id="chipclip"><rect x="1047.5" y="252.5" width="281.5" height="263.5"/></clipPath><g clip-path="url(#chipclip)"><rect x="1047.5" y="252.5" width="281.5" height="263.5" fill="#f8faf6"/><rect x="1047.5" y="252.5" width="281.5" height="263.5" fill="url(#chipshade)"/><path d="M1060,508.0 V260.5 H1310" fill="none" stroke="#d6e4d2" stroke-width="2.5"/><rect x="1315" y="273" width="12" height="235" fill="#d6dbd3" filter="url(#blur1)"/><path d="M1052,503 H1318" stroke="#d4d9d0" stroke-width="3" fill="none"/><path d="M1052,509 H1318" stroke="#dde2da" stroke-width="2" fill="none"/><ellipse cx="1133" cy="294" rx="20" ry="5" fill="#a9b0a6" opacity="0.6" filter="url(#blur4)"/><ellipse cx="1250" cy="300" rx="30" ry="6" fill="#c9cec4" opacity="0.6" filter="url(#blur4)"/><path d="M1108,287 H1164.6 V299" fill="none" stroke="#1f6fc4" stroke-width="1.9"/><path d="M1144.6,299 H1186.5" fill="none" stroke="#1f6fc4" stroke-width="1.9"/><path d="M1265,289 H1207.7 V299" fill="none" stroke="#c82846" stroke-width="1.9"/><path d="M1186.5,299 H1228.4" fill="none" stroke="#c82846" stroke-width="1.9"/><path d="M1124,347 H1186" stroke="#1f74cc" stroke-width="1.9" fill="none"/><path d="M1186,347 H1228" stroke="#2b2f8c" stroke-width="1.9" fill="none"/><path d="M1228,347 H1248" stroke="#c92445" stroke-width="1.9" fill="none"/><path d="M1102.4,391 H1144" stroke="#1f7ad4" stroke-width="1.9" fill="none"/><path d="M1144,391 H1186" stroke="#2457bd" stroke-width="1.9" fill="none"/><path d="M1186,391 H1228" stroke="#24265e" stroke-width="1.9" fill="none"/><path d="M1228,391 H1269.2" stroke="#c8233c" stroke-width="1.9" fill="none"/><rect x="1127.6" y="303.0" width="34.0" height="36.0" fill="#1f74cc" opacity="0.2"/><path d="M1144.6,299.0 V304.0 H1159.5 A2.12,2.12 0 0 1 1159.5,308.2 H1129.7 A2.12,2.12 0 0 0 1129.7,312.5 H1159.5 A2.12,2.12 0 0 1 1159.5,316.8 H1129.7 A2.12,2.12 0 0 0 1129.7,321.0 H1159.5 A2.12,2.12 0 0 1 1159.5,325.2 H1129.7 A2.12,2.12 0 0 0 1129.7,329.5 H1159.5 A2.12,2.12 0 0 1 1159.5,333.8 H1129.7 A2.12,2.12 0 0 0 1129.7,338.0 H1144.6 V347.0" fill="none" stroke="#1f74cc" stroke-width="2.2" stroke-linejoin="round"/><rect x="1169.5" y="303.0" width="34.0" height="36.0" fill="#2b2f8c" opacity="0.2"/><path d="M1186.5,299.0 V304.0 H1201.4 A2.12,2.12 0 0 1 1201.4,308.2 H1171.6 A2.12,2.12 0 0 0 1171.6,312.5 H1201.4 A2.12,2.12 0 0 1 1201.4,316.8 H1171.6 A2.12,2.12 0 0 0 1171.6,321.0 H1201.4 A2.12,2.12 0 0 1 1201.4,325.2 H1171.6 A2.12,2.12 0 0 0 1171.6,329.5 H1201.4 A2.12,2.12 0 0 1 1201.4,333.8 H1171.6 A2.12,2.12 0 0 0 1171.6,338.0 H1186.5 V347.0" fill="none" stroke="#2b2f8c" stroke-width="2.2" stroke-linejoin="round"/><rect x="1211.4" y="303.0" width="34.0" height="36.0" fill="#c92445" opacity="0.2"/><path d="M1228.4,299.0 V304.0 H1243.3 A2.12,2.12 0 0 1 1243.3,308.2 H1213.5 A2.12,2.12 0 0 0 1213.5,312.5 H1243.3 A2.12,2.12 0 0 1 1243.3,316.8 H1213.5 A2.12,2.12 0 0 0 1213.5,321.0 H1243.3 A2.12,2.12 0 0 1 1243.3,325.2 H1213.5 A2.12,2.12 0 0 0 1213.5,329.5 H1243.3 A2.12,2.12 0 0 1 1243.3,333.8 H1213.5 A2.12,2.12 0 0 0 1213.5,338.0 H1228.4 V347.0" fill="none" stroke="#c92445" stroke-width="2.2" stroke-linejoin="round"/><rect x="1107.0" y="350.5" width="34.0" height="32.0" fill="#1f7ad4" opacity="0.2"/><path d="M1124.0,347.0 V351.5 H1139.1 A1.88,1.88 0 0 1 1139.1,355.2 H1108.9 A1.88,1.88 0 0 0 1108.9,359.0 H1139.1 A1.88,1.88 0 0 1 1139.1,362.8 H1108.9 A1.88,1.88 0 0 0 1108.9,366.5 H1139.1 A1.88,1.88 0 0 1 1139.1,370.2 H1108.9 A1.88,1.88 0 0 0 1108.9,374.0 H1139.1 A1.88,1.88 0 0 1 1139.1,377.8 H1108.9 A1.88,1.88 0 0 0 1108.9,381.5 H1124.0 V391.0" fill="none" stroke="#1f7ad4" stroke-width="2.2" stroke-linejoin="round"/><rect x="1148.6" y="350.5" width="34.0" height="32.0" fill="#2457bd" opacity="0.2"/><path d="M1165.6,347.0 V351.5 H1180.7 A1.88,1.88 0 0 1 1180.7,355.2 H1150.5 A1.88,1.88 0 0 0 1150.5,359.0 H1180.7 A1.88,1.88 0 0 1 1180.7,362.8 H1150.5 A1.88,1.88 0 0 0 1150.5,366.5 H1180.7 A1.88,1.88 0 0 1 1180.7,370.2 H1150.5 A1.88,1.88 0 0 0 1150.5,374.0 H1180.7 A1.88,1.88 0 0 1 1180.7,377.8 H1150.5 A1.88,1.88 0 0 0 1150.5,381.5 H1165.6 V391.0" fill="none" stroke="#2457bd" stroke-width="2.2" stroke-linejoin="round"/><rect x="1190.2" y="350.5" width="34.0" height="32.0" fill="#24265e" opacity="0.2"/><path d="M1207.2,347.0 V351.5 H1222.3 A1.88,1.88 0 0 1 1222.3,355.2 H1192.1 A1.88,1.88 0 0 0 1192.1,359.0 H1222.3 A1.88,1.88 0 0 1 1222.3,362.8 H1192.1 A1.88,1.88 0 0 0 1192.1,366.5 H1222.3 A1.88,1.88 0 0 1 1222.3,370.2 H1192.1 A1.88,1.88 0 0 0 1192.1,374.0 H1222.3 A1.88,1.88 0 0 1 1222.3,377.8 H1192.1 A1.88,1.88 0 0 0 1192.1,381.5 H1207.2 V391.0" fill="none" stroke="#24265e" stroke-width="2.2" stroke-linejoin="round"/><rect x="1231.0" y="350.5" width="34.0" height="32.0" fill="#c8233c" opacity="0.2"/><path d="M1248.0,347.0 V351.5 H1263.1 A1.88,1.88 0 0 1 1263.1,355.2 H1232.9 A1.88,1.88 0 0 0 1232.9,359.0 H1263.1 A1.88,1.88 0 0 1 1263.1,362.8 H1232.9 A1.88,1.88 0 0 0 1232.9,366.5 H1263.1 A1.88,1.88 0 0 1 1263.1,370.2 H1232.9 A1.88,1.88 0 0 0 1232.9,374.0 H1263.1 A1.88,1.88 0 0 1 1263.1,377.8 H1232.9 A1.88,1.88 0 0 0 1232.9,381.5 H1248.0 V391.0" fill="none" stroke="#c8233c" stroke-width="2.2" stroke-linejoin="round"/><rect x="1085.4" y="395.5" width="34.0" height="33.5" fill="#2182dc" opacity="0.2"/><path d="M1102.4,391.0 V396.5 H1117.4 A1.97,1.97 0 0 1 1117.4,400.4 H1087.4 A1.97,1.97 0 0 0 1087.4,404.4 H1117.4 A1.97,1.97 0 0 1 1117.4,408.3 H1087.4 A1.97,1.97 0 0 0 1087.4,412.2 H1117.4 A1.97,1.97 0 0 1 1117.4,416.2 H1087.4 A1.97,1.97 0 0 0 1087.4,420.1 H1117.4 A1.97,1.97 0 0 1 1117.4,424.1 H1087.4 A1.97,1.97 0 0 0 1087.4,428.0 H1102.4 V439.6" fill="none" stroke="#2182dc" stroke-width="2.2" stroke-linejoin="round"/><rect x="1127.6" y="395.5" width="34.0" height="33.5" fill="#1f6ed2" opacity="0.2"/><path d="M1144.6,391.0 V396.5 H1159.6 A1.97,1.97 0 0 1 1159.6,400.4 H1129.6 A1.97,1.97 0 0 0 1129.6,404.4 H1159.6 A1.97,1.97 0 0 1 1159.6,408.3 H1129.6 A1.97,1.97 0 0 0 1129.6,412.2 H1159.6 A1.97,1.97 0 0 1 1159.6,416.2 H1129.6 A1.97,1.97 0 0 0 1129.6,420.1 H1159.6 A1.97,1.97 0 0 1 1159.6,424.1 H1129.6 A1.97,1.97 0 0 0 1129.6,428.0 H1144.6 V439.6" fill="none" stroke="#1f6ed2" stroke-width="2.2" stroke-linejoin="round"/><rect x="1169.3" y="395.5" width="34.0" height="33.5" fill="#2340ae" opacity="0.2"/><path d="M1186.3,391.0 V396.5 H1201.3 A1.97,1.97 0 0 1 1201.3,400.4 H1171.3 A1.97,1.97 0 0 0 1171.3,404.4 H1201.3 A1.97,1.97 0 0 1 1201.3,408.3 H1171.3 A1.97,1.97 0 0 0 1171.3,412.2 H1201.3 A1.97,1.97 0 0 1 1201.3,416.2 H1171.3 A1.97,1.97 0 0 0 1171.3,420.1 H1201.3 A1.97,1.97 0 0 1 1201.3,424.1 H1171.3 A1.97,1.97 0 0 0 1171.3,428.0 H1186.3 V439.6" fill="none" stroke="#2340ae" stroke-width="2.2" stroke-linejoin="round"/><rect x="1210.6" y="395.5" width="34.0" height="33.5" fill="#22223e" opacity="0.2"/><path d="M1227.6,391.0 V396.5 H1242.6 A1.97,1.97 0 0 1 1242.6,400.4 H1212.6 A1.97,1.97 0 0 0 1212.6,404.4 H1242.6 A1.97,1.97 0 0 1 1242.6,408.3 H1212.6 A1.97,1.97 0 0 0 1212.6,412.2 H1242.6 A1.97,1.97 0 0 1 1242.6,416.2 H1212.6 A1.97,1.97 0 0 0 1212.6,420.1 H1242.6 A1.97,1.97 0 0 1 1242.6,424.1 H1212.6 A1.97,1.97 0 0 0 1212.6,428.0 H1227.6 V439.6" fill="none" stroke="#22223e" stroke-width="2.2" stroke-linejoin="round"/><rect x="1252.2" y="395.5" width="34.0" height="33.5" fill="#c41f30" opacity="0.2"/><path d="M1269.2,391.0 V396.5 H1284.2 A1.97,1.97 0 0 1 1284.2,400.4 H1254.2 A1.97,1.97 0 0 0 1254.2,404.4 H1284.2 A1.97,1.97 0 0 1 1284.2,408.3 H1254.2 A1.97,1.97 0 0 0 1254.2,412.2 H1284.2 A1.97,1.97 0 0 1 1284.2,416.2 H1254.2 A1.97,1.97 0 0 0 1254.2,420.1 H1284.2 A1.97,1.97 0 0 1 1284.2,424.1 H1254.2 A1.97,1.97 0 0 0 1254.2,428.0 H1269.2 V439.6" fill="none" stroke="#c41f30" stroke-width="2.2" stroke-linejoin="round"/><ellipse cx="1114.5" cy="441" rx="5" ry="4.5" fill="#1c6cc8" opacity="0.3" filter="url(#blur2)"/><ellipse cx="1156.7" cy="441" rx="5" ry="4.5" fill="#1f70d0" opacity="0.3" filter="url(#blur2)"/><ellipse cx="1198.3" cy="441" rx="5" ry="4.5" fill="#1a2ea0" opacity="0.3" filter="url(#blur2)"/><ellipse cx="1239.8" cy="441" rx="5" ry="4.5" fill="#1a1a30" opacity="0.3" filter="url(#blur2)"/><ellipse cx="1281.4" cy="441" rx="5" ry="4.5" fill="#b81828" opacity="0.3" filter="url(#blur2)"/><path d="M1102.5,439.6 V450.6 L1179.7,466 V490" fill="none" stroke="#1c6cc8" stroke-width="1.9"/><path d="M1144.7,439.6 V449 L1182.6,465 V490" fill="none" stroke="#1f70d0" stroke-width="1.9"/><path d="M1186.3,439.6 V490" fill="none" stroke="#1a2ea0" stroke-width="1.9"/><path d="M1227.8,439.6 V449 L1190,465 V490" fill="none" stroke="#1a1a30" stroke-width="1.9"/><path d="M1269.4,439.6 V450 L1193,467 V490" fill="none" stroke="#b81828" stroke-width="1.9"/><circle cx="1102.5" cy="439.6" r="4.6" fill="#1c6cc8"/><circle cx="1144.7" cy="439.6" r="4.6" fill="#1f70d0"/><circle cx="1186.3" cy="439.6" r="4.6" fill="#1a2ea0"/><circle cx="1227.8" cy="439.6" r="4.6" fill="#1a1a30"/><circle cx="1269.4" cy="439.6" r="4.6" fill="#b81828"/><rect x="1179" y="468" width="8" height="27" fill="#1c40b8"/><rect x="1187" y="468" width="7.5" height="27" fill="#501828"/><ellipse cx="1197" cy="480" rx="5" ry="14" fill="#9aa096" opacity="0.5"/><path d="M1183,494 C1176,500 1180,506 1188,516" fill="none" stroke="#4c5250" stroke-width="9" stroke-linecap="round"/><path d="M1183,495 C1178,500 1181,506 1187,516" fill="none" stroke="#8a908c" stroke-width="2.5"/><circle cx="1190" cy="492" r="5" fill="#111"/><path d="M1047,249 L1060,252 L1088,264 L1096,270 L1108,282 L1107,289 L1100,287 L1089,277 L1080,272 L1052,262 Z" fill="#2c3a46"/><ellipse cx="1093" cy="270" rx="7" ry="9" transform="rotate(-40 1093 270)" fill="#233039"/><circle cx="1106" cy="285" r="3.6" fill="#1d2730"/><path d="M1271,252 L1290,252 L1284,266 L1270,286 L1264,291 L1261,287 L1266,272 Z" fill="#4a3434"/></g><rect x="1047.5" y="522.5" width="281.5" height="58" fill="url(#gstrip)"/><rect x="1061" y="522.5" width="45.5" height="9" fill="#000"/><rect x="1137" y="522.5" width="34" height="9.5" fill="#000"/><rect x="1202" y="522.5" width="34" height="12" fill="#000"/><rect x="1266.5" y="522.5" width="23.5" height="13" fill="#000"/><line x1="592.5" y1="62.4" x2="599.1" y2="62.4" stroke="#000" stroke-width="2.3"/><line x1="604.8" y1="62.4" x2="611.4" y2="62.4" stroke="#000" stroke-width="2.3"/><line x1="648.1" y1="62.4" x2="654.7" y2="62.4" stroke="#000" stroke-width="2.3"/><line x1="661.3" y1="62.4" x2="667.9" y2="62.4" stroke="#000" stroke-width="2.3"/><rect x="625.5" y="54.3" width="16" height="16" rx="1" fill="#fff" stroke="#000" stroke-width="4.2"/><line x1="592.9" y1="113.4" x2="620.8" y2="113.4" stroke="#0000ff" stroke-width="2.2"/><line x1="648.1" y1="113.4" x2="675.4" y2="113.4" stroke="#0000ff" stroke-width="2.2"/><polygon points="634.4,101.3 645.6,120.3 623.2,120.3" fill="#fff" stroke="#0000ff" stroke-width="3" stroke-linejoin="miter"/><line x1="592.2" y1="162.1" x2="618" y2="162.1" stroke="#ff0000" stroke-width="2.2"/><line x1="647.1" y1="162.1" x2="673.5" y2="162.1" stroke="#ff0000" stroke-width="2.2"/><circle cx="632.6" cy="161.5" r="9.6" fill="#fff" stroke="#ff0000" stroke-width="4.5"/><text x="689.5" y="74.9" font-family='"Liberation Sans", sans-serif' font-size="28.7" fill="#000">Theroy</text><text x="689" y="122.4" font-family='"Liberation Sans", sans-serif' font-size="28.7" fill="#000">Generated manually</text><text x="689.5" y="174.1" font-family='"Liberation Sans", sans-serif' font-size="28.7" fill="#000">Experiment</text><line x1="657.8" y1="557.1" x2="792.3" y2="452.7" stroke="#000" stroke-width="3" stroke-dasharray="5.5,7"/><line x1="816.0" y1="434.3" x2="950.5" y2="329.9" stroke="#000" stroke-width="3" stroke-dasharray="5.5,7"/><line x1="974.3" y1="311.6" x2="1108.8" y2="207.2" stroke="#000" stroke-width="3" stroke-dasharray="5.5,7"/><line x1="1132.5" y1="188.8" x2="1267.0" y2="84.4" stroke="#000" stroke-width="3" stroke-dasharray="5.5,7"/><rect x="637.9" y="558.3" width="16" height="16" rx="1" fill="#fff" stroke="#000" stroke-width="4.2"/><rect x="796.1" y="435.5" width="16" height="16" rx="1" fill="#fff" stroke="#000" stroke-width="4.2"/><rect x="954.4" y="312.7" width="16" height="16" rx="1" fill="#fff" stroke="#000" stroke-width="4.2"/><rect x="1112.7" y="190.0" width="16" height="16" rx="1" fill="#fff" stroke="#000" stroke-width="4.2"/><rect x="1270.9" y="67.2" width="16" height="16" rx="1" fill="#fff" stroke="#000" stroke-width="4.2"/><line x1="657.9" y1="557.3" x2="792.1" y2="457.4" stroke="#0000ff" stroke-width="3"/><line x1="816.0" y1="439.2" x2="950.5" y2="334.9" stroke="#0000ff" stroke-width="3"/><line x1="973.7" y1="315.8" x2="1109.3" y2="198.0" stroke="#0000ff" stroke-width="3"/><line x1="1132.9" y1="179.4" x2="1266.7" y2="83.9" stroke="#0000ff" stroke-width="3"/><polygon points="645.9,553.8 657.1,572.8 634.7,572.8" fill="#fff" stroke="#0000ff" stroke-width="3" stroke-linejoin="miter"/><polygon points="804.1,435.9 815.4,454.9 792.9,454.9" fill="#fff" stroke="#0000ff" stroke-width="3" stroke-linejoin="miter"/><polygon points="962.4,313.2 973.6,332.2 951.2,332.2" fill="#fff" stroke="#0000ff" stroke-width="3" stroke-linejoin="miter"/><polygon points="1120.7,175.7 1131.9,194.7 1109.5,194.7" fill="#fff" stroke="#0000ff" stroke-width="3" stroke-linejoin="miter"/><polygon points="1278.9,62.7 1290.1,81.7 1267.7,81.7" fill="#fff" stroke="#0000ff" stroke-width="3" stroke-linejoin="miter"/><line x1="659.5" y1="557.0" x2="790.5" y2="467.6" stroke="#ff0000" stroke-width="3"/><line x1="817.6" y1="448.7" x2="949.0" y2="354.9" stroke="#ff0000" stroke-width="3"/><line x1="973.6" y1="333.2" x2="1109.5" y2="185.6" stroke="#ff0000" stroke-width="3"/><line x1="1134.7" y1="164.7" x2="1264.9" y2="83.9" stroke="#ff0000" stroke-width="3"/><circle cx="645.9" cy="566.3" r="9.6" fill="#fff" stroke="#ff0000" stroke-width="4.5"/><circle cx="804.1" cy="458.3" r="9.6" fill="#fff" stroke="#ff0000" stroke-width="4.5"/><circle cx="962.4" cy="345.3" r="9.6" fill="#fff" stroke="#ff0000" stroke-width="4.5"/><circle cx="1120.7" cy="173.4" r="9.6" fill="#fff" stroke="#ff0000" stroke-width="4.5"/><circle cx="1278.9" cy="75.2" r="9.6" fill="#fff" stroke="#ff0000" stroke-width="4.5"/>
</svg>
</body></html>
